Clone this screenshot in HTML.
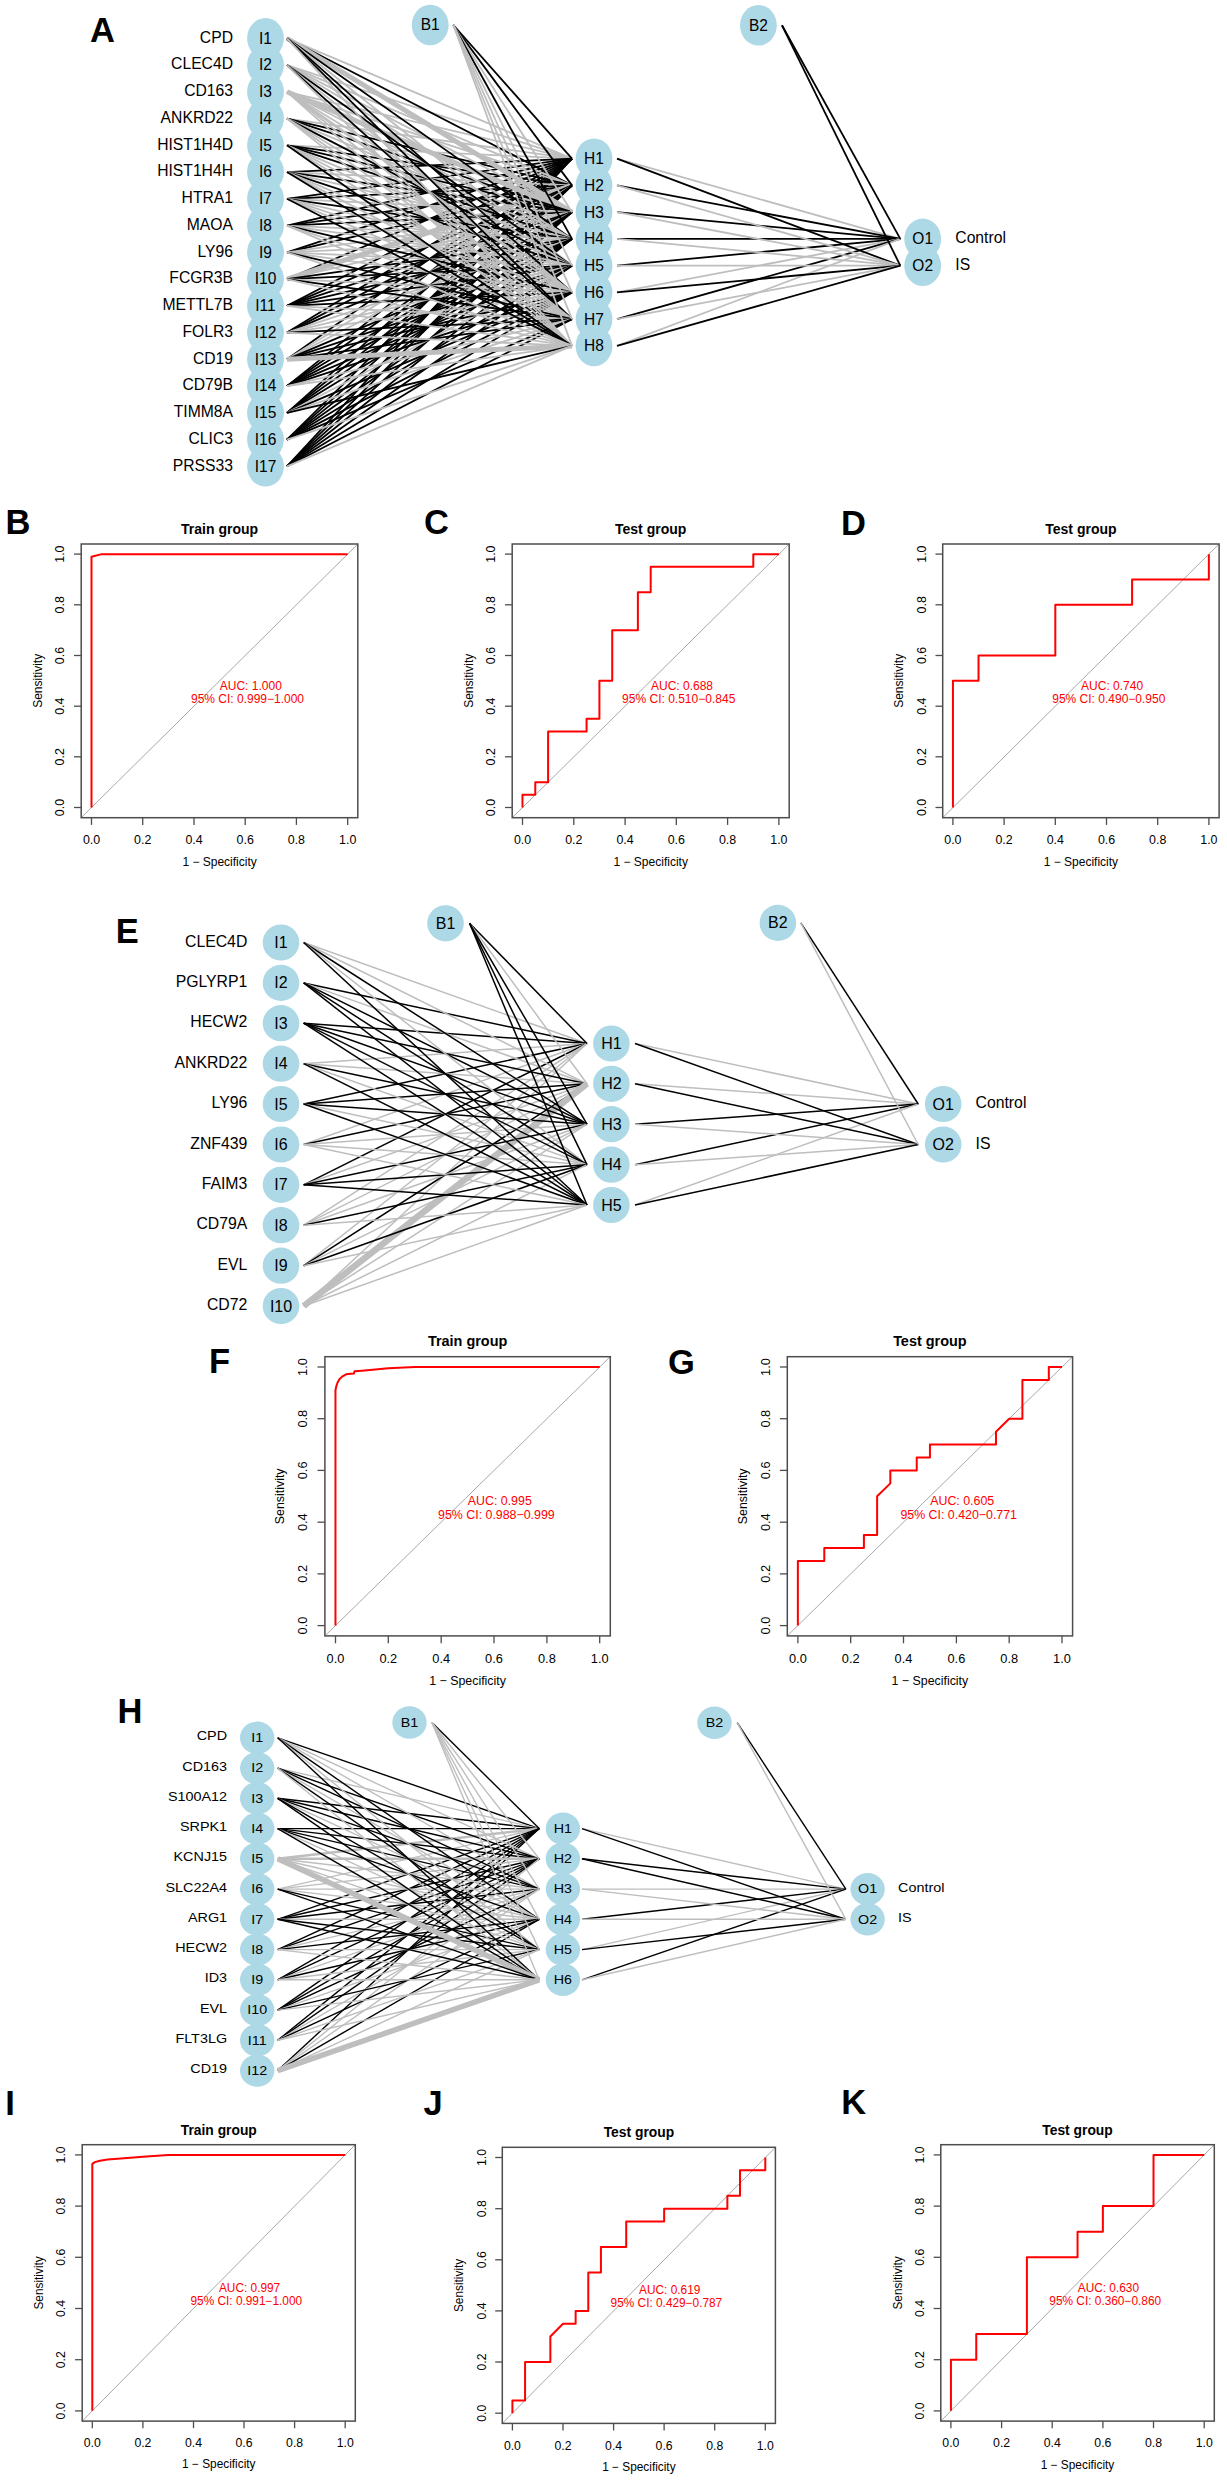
<!DOCTYPE html>
<html><head><meta charset="utf-8"><title>Figure</title>
<style>html,body{margin:0;padding:0;background:#fff;}svg{display:block;font-family:"Liberation Sans", sans-serif;}</style>
</head><body>
<svg width="1227" height="2480" viewBox="0 0 1227 2480" font-family='"Liberation Sans", sans-serif'>
<rect width="1227" height="2480" fill="#fff"/>
<text x="90.00" y="41.50" font-size="34.5" font-weight="bold">A</text>
<line x1="287.0" y1="38.3" x2="572.0" y2="158.7" stroke="#bebebe" stroke-width="1.8"/>
<line x1="287.0" y1="65.1" x2="572.0" y2="158.7" stroke="#bebebe" stroke-width="1.8"/>
<line x1="287.0" y1="91.8" x2="572.0" y2="158.7" stroke="#bebebe" stroke-width="1.8"/>
<line x1="287.0" y1="118.6" x2="572.0" y2="158.7" stroke="#bebebe" stroke-width="1.8"/>
<line x1="287.0" y1="145.3" x2="572.0" y2="158.7" stroke="#bebebe" stroke-width="1.8"/>
<line x1="287.0" y1="172.1" x2="572.0" y2="158.7" stroke="#000" stroke-width="1.8"/>
<line x1="287.0" y1="198.8" x2="572.0" y2="158.7" stroke="#000" stroke-width="1.8"/>
<line x1="287.0" y1="225.6" x2="572.0" y2="158.7" stroke="#000" stroke-width="1.8"/>
<line x1="287.0" y1="252.3" x2="572.0" y2="158.7" stroke="#000" stroke-width="1.8"/>
<line x1="287.0" y1="279.1" x2="572.0" y2="158.7" stroke="#000" stroke-width="1.8"/>
<line x1="287.0" y1="305.8" x2="572.0" y2="158.7" stroke="#000" stroke-width="1.8"/>
<line x1="287.0" y1="332.6" x2="572.0" y2="158.7" stroke="#000" stroke-width="1.8"/>
<line x1="287.0" y1="359.3" x2="572.0" y2="158.7" stroke="#000" stroke-width="1.8"/>
<line x1="287.0" y1="386.1" x2="572.0" y2="158.7" stroke="#000" stroke-width="1.8"/>
<line x1="287.0" y1="412.8" x2="572.0" y2="158.7" stroke="#000" stroke-width="1.8"/>
<line x1="287.0" y1="439.6" x2="572.0" y2="158.7" stroke="#000" stroke-width="1.8"/>
<line x1="287.0" y1="466.3" x2="572.0" y2="158.7" stroke="#000" stroke-width="1.8"/>
<line x1="287.0" y1="38.3" x2="572.0" y2="185.4" stroke="#000" stroke-width="1.8"/>
<line x1="287.0" y1="65.1" x2="572.0" y2="185.4" stroke="#bebebe" stroke-width="1.8"/>
<line x1="287.0" y1="91.8" x2="572.0" y2="185.4" stroke="#bebebe" stroke-width="1.8"/>
<line x1="287.0" y1="118.6" x2="572.0" y2="185.4" stroke="#000" stroke-width="1.8"/>
<line x1="287.0" y1="145.3" x2="572.0" y2="185.4" stroke="#000" stroke-width="1.8"/>
<line x1="287.0" y1="172.1" x2="572.0" y2="185.4" stroke="#bebebe" stroke-width="1.8"/>
<line x1="287.0" y1="198.8" x2="572.0" y2="185.4" stroke="#000" stroke-width="1.8"/>
<line x1="287.0" y1="225.6" x2="572.0" y2="185.4" stroke="#000" stroke-width="1.8"/>
<line x1="287.0" y1="252.3" x2="572.0" y2="185.4" stroke="#000" stroke-width="1.8"/>
<line x1="287.0" y1="279.1" x2="572.0" y2="185.4" stroke="#bebebe" stroke-width="5"/>
<line x1="287.0" y1="305.8" x2="572.0" y2="185.4" stroke="#000" stroke-width="1.8"/>
<line x1="287.0" y1="332.6" x2="572.0" y2="185.4" stroke="#000" stroke-width="1.8"/>
<line x1="287.0" y1="359.3" x2="572.0" y2="185.4" stroke="#bebebe" stroke-width="1.8"/>
<line x1="287.0" y1="386.1" x2="572.0" y2="185.4" stroke="#000" stroke-width="1.8"/>
<line x1="287.0" y1="412.8" x2="572.0" y2="185.4" stroke="#000" stroke-width="1.8"/>
<line x1="287.0" y1="439.6" x2="572.0" y2="185.4" stroke="#000" stroke-width="1.8"/>
<line x1="287.0" y1="466.3" x2="572.0" y2="185.4" stroke="#000" stroke-width="1.8"/>
<line x1="287.0" y1="38.3" x2="572.0" y2="212.2" stroke="#bebebe" stroke-width="5"/>
<line x1="287.0" y1="65.1" x2="572.0" y2="212.2" stroke="#bebebe" stroke-width="1.8"/>
<line x1="287.0" y1="91.8" x2="572.0" y2="212.2" stroke="#bebebe" stroke-width="5"/>
<line x1="287.0" y1="118.6" x2="572.0" y2="212.2" stroke="#000" stroke-width="1.8"/>
<line x1="287.0" y1="145.3" x2="572.0" y2="212.2" stroke="#000" stroke-width="1.8"/>
<line x1="287.0" y1="172.1" x2="572.0" y2="212.2" stroke="#000" stroke-width="1.8"/>
<line x1="287.0" y1="198.8" x2="572.0" y2="212.2" stroke="#bebebe" stroke-width="1.8"/>
<line x1="287.0" y1="225.6" x2="572.0" y2="212.2" stroke="#000" stroke-width="1.8"/>
<line x1="287.0" y1="252.3" x2="572.0" y2="212.2" stroke="#bebebe" stroke-width="1.8"/>
<line x1="287.0" y1="279.1" x2="572.0" y2="212.2" stroke="#bebebe" stroke-width="1.8"/>
<line x1="287.0" y1="305.8" x2="572.0" y2="212.2" stroke="#000" stroke-width="1.8"/>
<line x1="287.0" y1="332.6" x2="572.0" y2="212.2" stroke="#000" stroke-width="1.8"/>
<line x1="287.0" y1="359.3" x2="572.0" y2="212.2" stroke="#bebebe" stroke-width="1.8"/>
<line x1="287.0" y1="386.1" x2="572.0" y2="212.2" stroke="#000" stroke-width="1.8"/>
<line x1="287.0" y1="412.8" x2="572.0" y2="212.2" stroke="#000" stroke-width="1.8"/>
<line x1="287.0" y1="439.6" x2="572.0" y2="212.2" stroke="#000" stroke-width="1.8"/>
<line x1="287.0" y1="466.3" x2="572.0" y2="212.2" stroke="#000" stroke-width="1.8"/>
<line x1="287.0" y1="38.3" x2="572.0" y2="238.9" stroke="#000" stroke-width="1.8"/>
<line x1="287.0" y1="65.1" x2="572.0" y2="238.9" stroke="#bebebe" stroke-width="1.8"/>
<line x1="287.0" y1="91.8" x2="572.0" y2="238.9" stroke="#bebebe" stroke-width="1.8"/>
<line x1="287.0" y1="118.6" x2="572.0" y2="238.9" stroke="#bebebe" stroke-width="1.8"/>
<line x1="287.0" y1="145.3" x2="572.0" y2="238.9" stroke="#000" stroke-width="1.8"/>
<line x1="287.0" y1="172.1" x2="572.0" y2="238.9" stroke="#bebebe" stroke-width="1.8"/>
<line x1="287.0" y1="198.8" x2="572.0" y2="238.9" stroke="#000" stroke-width="1.8"/>
<line x1="287.0" y1="225.6" x2="572.0" y2="238.9" stroke="#bebebe" stroke-width="1.8"/>
<line x1="287.0" y1="252.3" x2="572.0" y2="238.9" stroke="#bebebe" stroke-width="1.8"/>
<line x1="287.0" y1="279.1" x2="572.0" y2="238.9" stroke="#000" stroke-width="1.8"/>
<line x1="287.0" y1="305.8" x2="572.0" y2="238.9" stroke="#000" stroke-width="1.8"/>
<line x1="287.0" y1="332.6" x2="572.0" y2="238.9" stroke="#bebebe" stroke-width="1.8"/>
<line x1="287.0" y1="359.3" x2="572.0" y2="238.9" stroke="#000" stroke-width="1.8"/>
<line x1="287.0" y1="386.1" x2="572.0" y2="238.9" stroke="#000" stroke-width="1.8"/>
<line x1="287.0" y1="412.8" x2="572.0" y2="238.9" stroke="#000" stroke-width="1.8"/>
<line x1="287.0" y1="439.6" x2="572.0" y2="238.9" stroke="#000" stroke-width="1.8"/>
<line x1="287.0" y1="466.3" x2="572.0" y2="238.9" stroke="#000" stroke-width="1.8"/>
<line x1="287.0" y1="38.3" x2="572.0" y2="265.7" stroke="#bebebe" stroke-width="1.8"/>
<line x1="287.0" y1="65.1" x2="572.0" y2="265.7" stroke="#000" stroke-width="1.8"/>
<line x1="287.0" y1="91.8" x2="572.0" y2="265.7" stroke="#bebebe" stroke-width="1.8"/>
<line x1="287.0" y1="118.6" x2="572.0" y2="265.7" stroke="#000" stroke-width="1.8"/>
<line x1="287.0" y1="145.3" x2="572.0" y2="265.7" stroke="#bebebe" stroke-width="1.8"/>
<line x1="287.0" y1="172.1" x2="572.0" y2="265.7" stroke="#000" stroke-width="1.8"/>
<line x1="287.0" y1="198.8" x2="572.0" y2="265.7" stroke="#bebebe" stroke-width="1.8"/>
<line x1="287.0" y1="225.6" x2="572.0" y2="265.7" stroke="#bebebe" stroke-width="1.8"/>
<line x1="287.0" y1="252.3" x2="572.0" y2="265.7" stroke="#bebebe" stroke-width="1.8"/>
<line x1="287.0" y1="279.1" x2="572.0" y2="265.7" stroke="#000" stroke-width="1.8"/>
<line x1="287.0" y1="305.8" x2="572.0" y2="265.7" stroke="#000" stroke-width="1.8"/>
<line x1="287.0" y1="332.6" x2="572.0" y2="265.7" stroke="#bebebe" stroke-width="1.8"/>
<line x1="287.0" y1="359.3" x2="572.0" y2="265.7" stroke="#000" stroke-width="1.8"/>
<line x1="287.0" y1="386.1" x2="572.0" y2="265.7" stroke="#000" stroke-width="1.8"/>
<line x1="287.0" y1="412.8" x2="572.0" y2="265.7" stroke="#bebebe" stroke-width="1.8"/>
<line x1="287.0" y1="439.6" x2="572.0" y2="265.7" stroke="#000" stroke-width="1.8"/>
<line x1="287.0" y1="466.3" x2="572.0" y2="265.7" stroke="#000" stroke-width="1.8"/>
<line x1="287.0" y1="38.3" x2="572.0" y2="292.4" stroke="#000" stroke-width="1.8"/>
<line x1="287.0" y1="65.1" x2="572.0" y2="292.4" stroke="#bebebe" stroke-width="1.8"/>
<line x1="287.0" y1="91.8" x2="572.0" y2="292.4" stroke="#bebebe" stroke-width="2.8"/>
<line x1="287.0" y1="118.6" x2="572.0" y2="292.4" stroke="#bebebe" stroke-width="1.8"/>
<line x1="287.0" y1="145.3" x2="572.0" y2="292.4" stroke="#bebebe" stroke-width="1.8"/>
<line x1="287.0" y1="172.1" x2="572.0" y2="292.4" stroke="#bebebe" stroke-width="1.8"/>
<line x1="287.0" y1="198.8" x2="572.0" y2="292.4" stroke="#bebebe" stroke-width="1.8"/>
<line x1="287.0" y1="225.6" x2="572.0" y2="292.4" stroke="#000" stroke-width="1.8"/>
<line x1="287.0" y1="252.3" x2="572.0" y2="292.4" stroke="#bebebe" stroke-width="1.8"/>
<line x1="287.0" y1="279.1" x2="572.0" y2="292.4" stroke="#bebebe" stroke-width="1.8"/>
<line x1="287.0" y1="305.8" x2="572.0" y2="292.4" stroke="#000" stroke-width="1.8"/>
<line x1="287.0" y1="332.6" x2="572.0" y2="292.4" stroke="#bebebe" stroke-width="1.8"/>
<line x1="287.0" y1="359.3" x2="572.0" y2="292.4" stroke="#000" stroke-width="1.8"/>
<line x1="287.0" y1="386.1" x2="572.0" y2="292.4" stroke="#000" stroke-width="1.8"/>
<line x1="287.0" y1="412.8" x2="572.0" y2="292.4" stroke="#000" stroke-width="1.8"/>
<line x1="287.0" y1="439.6" x2="572.0" y2="292.4" stroke="#000" stroke-width="1.8"/>
<line x1="287.0" y1="466.3" x2="572.0" y2="292.4" stroke="#000" stroke-width="1.8"/>
<line x1="287.0" y1="38.3" x2="572.0" y2="319.2" stroke="#000" stroke-width="1.8"/>
<line x1="287.0" y1="65.1" x2="572.0" y2="319.2" stroke="#000" stroke-width="1.8"/>
<line x1="287.0" y1="91.8" x2="572.0" y2="319.2" stroke="#bebebe" stroke-width="1.8"/>
<line x1="287.0" y1="118.6" x2="572.0" y2="319.2" stroke="#bebebe" stroke-width="1.8"/>
<line x1="287.0" y1="145.3" x2="572.0" y2="319.2" stroke="#bebebe" stroke-width="1.8"/>
<line x1="287.0" y1="172.1" x2="572.0" y2="319.2" stroke="#bebebe" stroke-width="1.8"/>
<line x1="287.0" y1="198.8" x2="572.0" y2="319.2" stroke="#bebebe" stroke-width="1.8"/>
<line x1="287.0" y1="225.6" x2="572.0" y2="319.2" stroke="#bebebe" stroke-width="1.8"/>
<line x1="287.0" y1="252.3" x2="572.0" y2="319.2" stroke="#000" stroke-width="1.8"/>
<line x1="287.0" y1="279.1" x2="572.0" y2="319.2" stroke="#000" stroke-width="1.8"/>
<line x1="287.0" y1="305.8" x2="572.0" y2="319.2" stroke="#bebebe" stroke-width="1.8"/>
<line x1="287.0" y1="332.6" x2="572.0" y2="319.2" stroke="#000" stroke-width="1.8"/>
<line x1="287.0" y1="359.3" x2="572.0" y2="319.2" stroke="#000" stroke-width="1.8"/>
<line x1="287.0" y1="386.1" x2="572.0" y2="319.2" stroke="#bebebe" stroke-width="1.8"/>
<line x1="287.0" y1="412.8" x2="572.0" y2="319.2" stroke="#bebebe" stroke-width="1.8"/>
<line x1="287.0" y1="439.6" x2="572.0" y2="319.2" stroke="#000" stroke-width="1.8"/>
<line x1="287.0" y1="466.3" x2="572.0" y2="319.2" stroke="#000" stroke-width="1.8"/>
<line x1="287.0" y1="38.3" x2="572.0" y2="345.9" stroke="#bebebe" stroke-width="1.8"/>
<line x1="287.0" y1="65.1" x2="572.0" y2="345.9" stroke="#bebebe" stroke-width="1.8"/>
<line x1="287.0" y1="91.8" x2="572.0" y2="345.9" stroke="#bebebe" stroke-width="1.8"/>
<line x1="287.0" y1="118.6" x2="572.0" y2="345.9" stroke="#bebebe" stroke-width="1.8"/>
<line x1="287.0" y1="145.3" x2="572.0" y2="345.9" stroke="#000" stroke-width="1.8"/>
<line x1="287.0" y1="172.1" x2="572.0" y2="345.9" stroke="#000" stroke-width="1.8"/>
<line x1="287.0" y1="198.8" x2="572.0" y2="345.9" stroke="#000" stroke-width="1.8"/>
<line x1="287.0" y1="225.6" x2="572.0" y2="345.9" stroke="#bebebe" stroke-width="1.8"/>
<line x1="287.0" y1="252.3" x2="572.0" y2="345.9" stroke="#bebebe" stroke-width="1.8"/>
<line x1="287.0" y1="279.1" x2="572.0" y2="345.9" stroke="#bebebe" stroke-width="1.8"/>
<line x1="287.0" y1="305.8" x2="572.0" y2="345.9" stroke="#bebebe" stroke-width="1.8"/>
<line x1="287.0" y1="332.6" x2="572.0" y2="345.9" stroke="#bebebe" stroke-width="1.8"/>
<line x1="287.0" y1="359.3" x2="572.0" y2="345.9" stroke="#bebebe" stroke-width="5"/>
<line x1="287.0" y1="386.1" x2="572.0" y2="345.9" stroke="#bebebe" stroke-width="1.8"/>
<line x1="287.0" y1="412.8" x2="572.0" y2="345.9" stroke="#000" stroke-width="1.8"/>
<line x1="287.0" y1="439.6" x2="572.0" y2="345.9" stroke="#bebebe" stroke-width="1.8"/>
<line x1="287.0" y1="466.3" x2="572.0" y2="345.9" stroke="#bebebe" stroke-width="1.8"/>
<line x1="453.3" y1="25.0" x2="572.0" y2="158.7" stroke="#000" stroke-width="1.8"/>
<line x1="453.3" y1="25.0" x2="572.0" y2="185.4" stroke="#000" stroke-width="1.8"/>
<line x1="453.3" y1="25.0" x2="572.0" y2="212.2" stroke="#bebebe" stroke-width="1.8"/>
<line x1="453.3" y1="25.0" x2="572.0" y2="238.9" stroke="#000" stroke-width="1.8"/>
<line x1="453.3" y1="25.0" x2="572.0" y2="265.7" stroke="#bebebe" stroke-width="1.8"/>
<line x1="453.3" y1="25.0" x2="572.0" y2="292.4" stroke="#bebebe" stroke-width="1.8"/>
<line x1="453.3" y1="25.0" x2="572.0" y2="319.2" stroke="#bebebe" stroke-width="1.8"/>
<line x1="453.3" y1="25.0" x2="572.0" y2="345.9" stroke="#bebebe" stroke-width="1.8"/>
<line x1="617.0" y1="158.7" x2="900.3" y2="238.9" stroke="#bebebe" stroke-width="1.8"/>
<line x1="617.0" y1="185.4" x2="900.3" y2="238.9" stroke="#000" stroke-width="1.8"/>
<line x1="617.0" y1="212.2" x2="900.3" y2="238.9" stroke="#000" stroke-width="1.8"/>
<line x1="617.0" y1="238.9" x2="900.3" y2="238.9" stroke="#000" stroke-width="1.8"/>
<line x1="617.0" y1="265.7" x2="900.3" y2="238.9" stroke="#000" stroke-width="1.8"/>
<line x1="617.0" y1="292.4" x2="900.3" y2="238.9" stroke="#bebebe" stroke-width="1.8"/>
<line x1="617.0" y1="319.2" x2="900.3" y2="238.9" stroke="#000" stroke-width="1.8"/>
<line x1="617.0" y1="345.9" x2="900.3" y2="238.9" stroke="#bebebe" stroke-width="1.8"/>
<line x1="782.0" y1="25.3" x2="900.3" y2="238.9" stroke="#000" stroke-width="1.8"/>
<line x1="617.0" y1="158.7" x2="900.3" y2="265.7" stroke="#000" stroke-width="1.8"/>
<line x1="617.0" y1="185.4" x2="900.3" y2="265.7" stroke="#bebebe" stroke-width="1.8"/>
<line x1="617.0" y1="212.2" x2="900.3" y2="265.7" stroke="#bebebe" stroke-width="1.8"/>
<line x1="617.0" y1="238.9" x2="900.3" y2="265.7" stroke="#bebebe" stroke-width="1.8"/>
<line x1="617.0" y1="265.7" x2="900.3" y2="265.7" stroke="#bebebe" stroke-width="1.8"/>
<line x1="617.0" y1="292.4" x2="900.3" y2="265.7" stroke="#000" stroke-width="1.8"/>
<line x1="617.0" y1="319.2" x2="900.3" y2="265.7" stroke="#bebebe" stroke-width="1.8"/>
<line x1="617.0" y1="345.9" x2="900.3" y2="265.7" stroke="#000" stroke-width="1.8"/>
<line x1="782.0" y1="25.3" x2="900.3" y2="265.7" stroke="#000" stroke-width="1.8"/>
<ellipse cx="265.5" cy="38.3" rx="18.4" ry="20.3" fill="#add8e6"/>
<text transform="translate(265.5,43.7) scale(1,1.08)" font-size="15.5" text-anchor="middle">I1</text>
<ellipse cx="265.5" cy="65.1" rx="18.4" ry="20.3" fill="#add8e6"/>
<text transform="translate(265.5,70.4) scale(1,1.08)" font-size="15.5" text-anchor="middle">I2</text>
<ellipse cx="265.5" cy="91.8" rx="18.4" ry="20.3" fill="#add8e6"/>
<text transform="translate(265.5,97.2) scale(1,1.08)" font-size="15.5" text-anchor="middle">I3</text>
<ellipse cx="265.5" cy="118.6" rx="18.4" ry="20.3" fill="#add8e6"/>
<text transform="translate(265.5,123.9) scale(1,1.08)" font-size="15.5" text-anchor="middle">I4</text>
<ellipse cx="265.5" cy="145.3" rx="18.4" ry="20.3" fill="#add8e6"/>
<text transform="translate(265.5,150.7) scale(1,1.08)" font-size="15.5" text-anchor="middle">I5</text>
<ellipse cx="265.5" cy="172.1" rx="18.4" ry="20.3" fill="#add8e6"/>
<text transform="translate(265.5,177.4) scale(1,1.08)" font-size="15.5" text-anchor="middle">I6</text>
<ellipse cx="265.5" cy="198.8" rx="18.4" ry="20.3" fill="#add8e6"/>
<text transform="translate(265.5,204.2) scale(1,1.08)" font-size="15.5" text-anchor="middle">I7</text>
<ellipse cx="265.5" cy="225.6" rx="18.4" ry="20.3" fill="#add8e6"/>
<text transform="translate(265.5,230.9) scale(1,1.08)" font-size="15.5" text-anchor="middle">I8</text>
<ellipse cx="265.5" cy="252.3" rx="18.4" ry="20.3" fill="#add8e6"/>
<text transform="translate(265.5,257.7) scale(1,1.08)" font-size="15.5" text-anchor="middle">I9</text>
<ellipse cx="265.5" cy="279.1" rx="18.4" ry="20.3" fill="#add8e6"/>
<text transform="translate(265.5,284.4) scale(1,1.08)" font-size="15.5" text-anchor="middle">I10</text>
<ellipse cx="265.5" cy="305.8" rx="18.4" ry="20.3" fill="#add8e6"/>
<text transform="translate(265.5,311.2) scale(1,1.08)" font-size="15.5" text-anchor="middle">I11</text>
<ellipse cx="265.5" cy="332.6" rx="18.4" ry="20.3" fill="#add8e6"/>
<text transform="translate(265.5,337.9) scale(1,1.08)" font-size="15.5" text-anchor="middle">I12</text>
<ellipse cx="265.5" cy="359.3" rx="18.4" ry="20.3" fill="#add8e6"/>
<text transform="translate(265.5,364.7) scale(1,1.08)" font-size="15.5" text-anchor="middle">I13</text>
<ellipse cx="265.5" cy="386.1" rx="18.4" ry="20.3" fill="#add8e6"/>
<text transform="translate(265.5,391.4) scale(1,1.08)" font-size="15.5" text-anchor="middle">I14</text>
<ellipse cx="265.5" cy="412.8" rx="18.4" ry="20.3" fill="#add8e6"/>
<text transform="translate(265.5,418.2) scale(1,1.08)" font-size="15.5" text-anchor="middle">I15</text>
<ellipse cx="265.5" cy="439.6" rx="18.4" ry="20.3" fill="#add8e6"/>
<text transform="translate(265.5,444.9) scale(1,1.08)" font-size="15.5" text-anchor="middle">I16</text>
<ellipse cx="265.5" cy="466.3" rx="18.4" ry="20.3" fill="#add8e6"/>
<text transform="translate(265.5,471.7) scale(1,1.08)" font-size="15.5" text-anchor="middle">I17</text>
<ellipse cx="594.0" cy="158.7" rx="18.4" ry="20.3" fill="#add8e6"/>
<text transform="translate(594.0,164.0) scale(1,1.08)" font-size="15.5" text-anchor="middle">H1</text>
<ellipse cx="594.0" cy="185.4" rx="18.4" ry="20.3" fill="#add8e6"/>
<text transform="translate(594.0,190.8) scale(1,1.08)" font-size="15.5" text-anchor="middle">H2</text>
<ellipse cx="594.0" cy="212.2" rx="18.4" ry="20.3" fill="#add8e6"/>
<text transform="translate(594.0,217.5) scale(1,1.08)" font-size="15.5" text-anchor="middle">H3</text>
<ellipse cx="594.0" cy="238.9" rx="18.4" ry="20.3" fill="#add8e6"/>
<text transform="translate(594.0,244.3) scale(1,1.08)" font-size="15.5" text-anchor="middle">H4</text>
<ellipse cx="594.0" cy="265.7" rx="18.4" ry="20.3" fill="#add8e6"/>
<text transform="translate(594.0,271.0) scale(1,1.08)" font-size="15.5" text-anchor="middle">H5</text>
<ellipse cx="594.0" cy="292.4" rx="18.4" ry="20.3" fill="#add8e6"/>
<text transform="translate(594.0,297.8) scale(1,1.08)" font-size="15.5" text-anchor="middle">H6</text>
<ellipse cx="594.0" cy="319.2" rx="18.4" ry="20.3" fill="#add8e6"/>
<text transform="translate(594.0,324.5) scale(1,1.08)" font-size="15.5" text-anchor="middle">H7</text>
<ellipse cx="594.0" cy="345.9" rx="18.4" ry="20.3" fill="#add8e6"/>
<text transform="translate(594.0,351.3) scale(1,1.08)" font-size="15.5" text-anchor="middle">H8</text>
<ellipse cx="922.7" cy="238.9" rx="18.4" ry="20.3" fill="#add8e6"/>
<text transform="translate(922.7,244.3) scale(1,1.08)" font-size="15.5" text-anchor="middle">O1</text>
<ellipse cx="922.7" cy="265.7" rx="18.4" ry="20.3" fill="#add8e6"/>
<text transform="translate(922.7,271.0) scale(1,1.08)" font-size="15.5" text-anchor="middle">O2</text>
<ellipse cx="430.2" cy="25.0" rx="18.4" ry="20.3" fill="#add8e6"/>
<text transform="translate(430.2,30.4) scale(1,1.08)" font-size="15.5" text-anchor="middle">B1</text>
<ellipse cx="758.4" cy="25.3" rx="18.4" ry="20.3" fill="#add8e6"/>
<text transform="translate(758.4,30.7) scale(1,1.08)" font-size="15.5" text-anchor="middle">B2</text>
<text transform="translate(233.0,42.5) scale(1,1.08)" font-size="15.7" text-anchor="end">CPD</text>
<text transform="translate(233.0,69.3) scale(1,1.08)" font-size="15.7" text-anchor="end">CLEC4D</text>
<text transform="translate(233.0,96.0) scale(1,1.08)" font-size="15.7" text-anchor="end">CD163</text>
<text transform="translate(233.0,122.8) scale(1,1.08)" font-size="15.7" text-anchor="end">ANKRD22</text>
<text transform="translate(233.0,149.5) scale(1,1.08)" font-size="15.7" text-anchor="end">HIST1H4D</text>
<text transform="translate(233.0,176.3) scale(1,1.08)" font-size="15.7" text-anchor="end">HIST1H4H</text>
<text transform="translate(233.0,203.0) scale(1,1.08)" font-size="15.7" text-anchor="end">HTRA1</text>
<text transform="translate(233.0,229.8) scale(1,1.08)" font-size="15.7" text-anchor="end">MAOA</text>
<text transform="translate(233.0,256.5) scale(1,1.08)" font-size="15.7" text-anchor="end">LY96</text>
<text transform="translate(233.0,283.3) scale(1,1.08)" font-size="15.7" text-anchor="end">FCGR3B</text>
<text transform="translate(233.0,310.0) scale(1,1.08)" font-size="15.7" text-anchor="end">METTL7B</text>
<text transform="translate(233.0,336.8) scale(1,1.08)" font-size="15.7" text-anchor="end">FOLR3</text>
<text transform="translate(233.0,363.5) scale(1,1.08)" font-size="15.7" text-anchor="end">CD19</text>
<text transform="translate(233.0,390.3) scale(1,1.08)" font-size="15.7" text-anchor="end">CD79B</text>
<text transform="translate(233.0,417.0) scale(1,1.08)" font-size="15.7" text-anchor="end">TIMM8A</text>
<text transform="translate(233.0,443.8) scale(1,1.08)" font-size="15.7" text-anchor="end">CLIC3</text>
<text transform="translate(233.0,470.5) scale(1,1.08)" font-size="15.7" text-anchor="end">PRSS33</text>
<text transform="translate(955.3,243.2) scale(1,1.08)" font-size="15.7">Control</text>
<text transform="translate(955.3,269.9) scale(1,1.08)" font-size="15.7">IS</text>
<text x="115.70" y="943.40" font-size="34.5" font-weight="bold">E</text>
<line x1="303.7" y1="942.5" x2="587.0" y2="1043.5" stroke="#bebebe" stroke-width="1.5"/>
<line x1="303.7" y1="982.9" x2="587.0" y2="1043.5" stroke="#000" stroke-width="1.5"/>
<line x1="303.7" y1="1023.2" x2="587.0" y2="1043.5" stroke="#000" stroke-width="1.5"/>
<line x1="303.7" y1="1063.7" x2="587.0" y2="1043.5" stroke="#bebebe" stroke-width="1.5"/>
<line x1="303.7" y1="1104.0" x2="587.0" y2="1043.5" stroke="#000" stroke-width="1.5"/>
<line x1="303.7" y1="1144.5" x2="587.0" y2="1043.5" stroke="#bebebe" stroke-width="1.5"/>
<line x1="303.7" y1="1184.8" x2="587.0" y2="1043.5" stroke="#000" stroke-width="1.5"/>
<line x1="303.7" y1="1225.2" x2="587.0" y2="1043.5" stroke="#bebebe" stroke-width="1.5"/>
<line x1="303.7" y1="1265.7" x2="587.0" y2="1043.5" stroke="#bebebe" stroke-width="1.5"/>
<line x1="303.7" y1="1306.0" x2="587.0" y2="1043.5" stroke="#bebebe" stroke-width="1.5"/>
<line x1="303.7" y1="942.5" x2="587.0" y2="1083.8" stroke="#bebebe" stroke-width="1.5"/>
<line x1="303.7" y1="982.9" x2="587.0" y2="1083.8" stroke="#bebebe" stroke-width="1.5"/>
<line x1="303.7" y1="1023.2" x2="587.0" y2="1083.8" stroke="#000" stroke-width="1.5"/>
<line x1="303.7" y1="1063.7" x2="587.0" y2="1083.8" stroke="#bebebe" stroke-width="1.5"/>
<line x1="303.7" y1="1104.0" x2="587.0" y2="1083.8" stroke="#000" stroke-width="1.5"/>
<line x1="303.7" y1="1144.5" x2="587.0" y2="1083.8" stroke="#000" stroke-width="1.5"/>
<line x1="303.7" y1="1184.8" x2="587.0" y2="1083.8" stroke="#bebebe" stroke-width="1.5"/>
<line x1="303.7" y1="1225.2" x2="587.0" y2="1083.8" stroke="#bebebe" stroke-width="1.5"/>
<line x1="303.7" y1="1265.7" x2="587.0" y2="1083.8" stroke="#000" stroke-width="1.5"/>
<line x1="303.7" y1="1306.0" x2="587.0" y2="1083.8" stroke="#bebebe" stroke-width="6.5"/>
<line x1="303.7" y1="942.5" x2="587.0" y2="1124.2" stroke="#000" stroke-width="1.5"/>
<line x1="303.7" y1="982.9" x2="587.0" y2="1124.2" stroke="#000" stroke-width="1.5"/>
<line x1="303.7" y1="1023.2" x2="587.0" y2="1124.2" stroke="#000" stroke-width="1.5"/>
<line x1="303.7" y1="1063.7" x2="587.0" y2="1124.2" stroke="#000" stroke-width="1.5"/>
<line x1="303.7" y1="1104.0" x2="587.0" y2="1124.2" stroke="#000" stroke-width="1.5"/>
<line x1="303.7" y1="1144.5" x2="587.0" y2="1124.2" stroke="#bebebe" stroke-width="1.5"/>
<line x1="303.7" y1="1184.8" x2="587.0" y2="1124.2" stroke="#000" stroke-width="1.5"/>
<line x1="303.7" y1="1225.2" x2="587.0" y2="1124.2" stroke="#bebebe" stroke-width="1.5"/>
<line x1="303.7" y1="1265.7" x2="587.0" y2="1124.2" stroke="#bebebe" stroke-width="1.5"/>
<line x1="303.7" y1="1306.0" x2="587.0" y2="1124.2" stroke="#bebebe" stroke-width="1.5"/>
<line x1="303.7" y1="942.5" x2="587.0" y2="1164.7" stroke="#bebebe" stroke-width="1.5"/>
<line x1="303.7" y1="982.9" x2="587.0" y2="1164.7" stroke="#000" stroke-width="1.5"/>
<line x1="303.7" y1="1023.2" x2="587.0" y2="1164.7" stroke="#000" stroke-width="1.5"/>
<line x1="303.7" y1="1063.7" x2="587.0" y2="1164.7" stroke="#bebebe" stroke-width="1.5"/>
<line x1="303.7" y1="1104.0" x2="587.0" y2="1164.7" stroke="#bebebe" stroke-width="1.5"/>
<line x1="303.7" y1="1144.5" x2="587.0" y2="1164.7" stroke="#bebebe" stroke-width="1.5"/>
<line x1="303.7" y1="1184.8" x2="587.0" y2="1164.7" stroke="#000" stroke-width="1.5"/>
<line x1="303.7" y1="1225.2" x2="587.0" y2="1164.7" stroke="#000" stroke-width="1.5"/>
<line x1="303.7" y1="1265.7" x2="587.0" y2="1164.7" stroke="#000" stroke-width="1.5"/>
<line x1="303.7" y1="1306.0" x2="587.0" y2="1164.7" stroke="#bebebe" stroke-width="1.5"/>
<line x1="303.7" y1="942.5" x2="587.0" y2="1205.0" stroke="#000" stroke-width="1.5"/>
<line x1="303.7" y1="982.9" x2="587.0" y2="1205.0" stroke="#000" stroke-width="1.5"/>
<line x1="303.7" y1="1023.2" x2="587.0" y2="1205.0" stroke="#000" stroke-width="1.5"/>
<line x1="303.7" y1="1063.7" x2="587.0" y2="1205.0" stroke="#000" stroke-width="1.5"/>
<line x1="303.7" y1="1104.0" x2="587.0" y2="1205.0" stroke="#000" stroke-width="1.5"/>
<line x1="303.7" y1="1144.5" x2="587.0" y2="1205.0" stroke="#bebebe" stroke-width="1.5"/>
<line x1="303.7" y1="1184.8" x2="587.0" y2="1205.0" stroke="#000" stroke-width="1.5"/>
<line x1="303.7" y1="1225.2" x2="587.0" y2="1205.0" stroke="#bebebe" stroke-width="1.5"/>
<line x1="303.7" y1="1265.7" x2="587.0" y2="1205.0" stroke="#bebebe" stroke-width="1.5"/>
<line x1="303.7" y1="1306.0" x2="587.0" y2="1205.0" stroke="#bebebe" stroke-width="1.5"/>
<line x1="469.6" y1="923.3" x2="587.0" y2="1043.5" stroke="#000" stroke-width="1.5"/>
<line x1="469.6" y1="923.3" x2="587.0" y2="1083.8" stroke="#bebebe" stroke-width="1.5"/>
<line x1="469.6" y1="923.3" x2="587.0" y2="1124.2" stroke="#000" stroke-width="1.5"/>
<line x1="469.6" y1="923.3" x2="587.0" y2="1164.7" stroke="#000" stroke-width="1.5"/>
<line x1="469.6" y1="923.3" x2="587.0" y2="1205.0" stroke="#000" stroke-width="1.5"/>
<line x1="635.0" y1="1043.5" x2="918.2" y2="1104.0" stroke="#bebebe" stroke-width="1.5"/>
<line x1="635.0" y1="1083.8" x2="918.2" y2="1104.0" stroke="#bebebe" stroke-width="1.5"/>
<line x1="635.0" y1="1124.2" x2="918.2" y2="1104.0" stroke="#000" stroke-width="1.5"/>
<line x1="635.0" y1="1164.7" x2="918.2" y2="1104.0" stroke="#000" stroke-width="1.5"/>
<line x1="635.0" y1="1205.0" x2="918.2" y2="1104.0" stroke="#bebebe" stroke-width="1.5"/>
<line x1="800.8" y1="922.9" x2="918.2" y2="1104.0" stroke="#000" stroke-width="1.5"/>
<line x1="635.0" y1="1043.5" x2="918.2" y2="1144.5" stroke="#000" stroke-width="1.5"/>
<line x1="635.0" y1="1083.8" x2="918.2" y2="1144.5" stroke="#000" stroke-width="1.5"/>
<line x1="635.0" y1="1124.2" x2="918.2" y2="1144.5" stroke="#bebebe" stroke-width="1.5"/>
<line x1="635.0" y1="1164.7" x2="918.2" y2="1144.5" stroke="#bebebe" stroke-width="1.5"/>
<line x1="635.0" y1="1205.0" x2="918.2" y2="1144.5" stroke="#000" stroke-width="1.5"/>
<line x1="800.8" y1="922.9" x2="918.2" y2="1144.5" stroke="#bebebe" stroke-width="1.5"/>
<ellipse cx="281.0" cy="942.5" rx="18.3" ry="18.1" fill="#add8e6"/>
<text transform="translate(281.0,947.9) scale(1,1.06)" font-size="16" text-anchor="middle">I1</text>
<ellipse cx="281.0" cy="982.9" rx="18.3" ry="18.1" fill="#add8e6"/>
<text transform="translate(281.0,988.3) scale(1,1.06)" font-size="16" text-anchor="middle">I2</text>
<ellipse cx="281.0" cy="1023.2" rx="18.3" ry="18.1" fill="#add8e6"/>
<text transform="translate(281.0,1028.7) scale(1,1.06)" font-size="16" text-anchor="middle">I3</text>
<ellipse cx="281.0" cy="1063.7" rx="18.3" ry="18.1" fill="#add8e6"/>
<text transform="translate(281.0,1069.1) scale(1,1.06)" font-size="16" text-anchor="middle">I4</text>
<ellipse cx="281.0" cy="1104.0" rx="18.3" ry="18.1" fill="#add8e6"/>
<text transform="translate(281.0,1109.5) scale(1,1.06)" font-size="16" text-anchor="middle">I5</text>
<ellipse cx="281.0" cy="1144.5" rx="18.3" ry="18.1" fill="#add8e6"/>
<text transform="translate(281.0,1149.9) scale(1,1.06)" font-size="16" text-anchor="middle">I6</text>
<ellipse cx="281.0" cy="1184.8" rx="18.3" ry="18.1" fill="#add8e6"/>
<text transform="translate(281.0,1190.3) scale(1,1.06)" font-size="16" text-anchor="middle">I7</text>
<ellipse cx="281.0" cy="1225.2" rx="18.3" ry="18.1" fill="#add8e6"/>
<text transform="translate(281.0,1230.7) scale(1,1.06)" font-size="16" text-anchor="middle">I8</text>
<ellipse cx="281.0" cy="1265.7" rx="18.3" ry="18.1" fill="#add8e6"/>
<text transform="translate(281.0,1271.1) scale(1,1.06)" font-size="16" text-anchor="middle">I9</text>
<ellipse cx="281.0" cy="1306.0" rx="18.3" ry="18.1" fill="#add8e6"/>
<text transform="translate(281.0,1311.5) scale(1,1.06)" font-size="16" text-anchor="middle">I10</text>
<ellipse cx="611.4" cy="1043.5" rx="18.3" ry="18.1" fill="#add8e6"/>
<text transform="translate(611.4,1048.9) scale(1,1.06)" font-size="16" text-anchor="middle">H1</text>
<ellipse cx="611.4" cy="1083.8" rx="18.3" ry="18.1" fill="#add8e6"/>
<text transform="translate(611.4,1089.3) scale(1,1.06)" font-size="16" text-anchor="middle">H2</text>
<ellipse cx="611.4" cy="1124.2" rx="18.3" ry="18.1" fill="#add8e6"/>
<text transform="translate(611.4,1129.7) scale(1,1.06)" font-size="16" text-anchor="middle">H3</text>
<ellipse cx="611.4" cy="1164.7" rx="18.3" ry="18.1" fill="#add8e6"/>
<text transform="translate(611.4,1170.1) scale(1,1.06)" font-size="16" text-anchor="middle">H4</text>
<ellipse cx="611.4" cy="1205.0" rx="18.3" ry="18.1" fill="#add8e6"/>
<text transform="translate(611.4,1210.5) scale(1,1.06)" font-size="16" text-anchor="middle">H5</text>
<ellipse cx="943.2" cy="1104.0" rx="18.3" ry="18.1" fill="#add8e6"/>
<text transform="translate(943.2,1109.5) scale(1,1.06)" font-size="16" text-anchor="middle">O1</text>
<ellipse cx="943.2" cy="1144.5" rx="18.3" ry="18.1" fill="#add8e6"/>
<text transform="translate(943.2,1149.9) scale(1,1.06)" font-size="16" text-anchor="middle">O2</text>
<ellipse cx="445.5" cy="923.3" rx="18.3" ry="18.1" fill="#add8e6"/>
<text transform="translate(445.5,928.7) scale(1,1.06)" font-size="16" text-anchor="middle">B1</text>
<ellipse cx="777.9" cy="922.9" rx="18.3" ry="18.1" fill="#add8e6"/>
<text transform="translate(777.9,928.3) scale(1,1.06)" font-size="16" text-anchor="middle">B2</text>
<text transform="translate(247.3,946.6) scale(1,1.06)" font-size="15.8" text-anchor="end">CLEC4D</text>
<text transform="translate(247.3,987.0) scale(1,1.06)" font-size="15.8" text-anchor="end">PGLYRP1</text>
<text transform="translate(247.3,1027.4) scale(1,1.06)" font-size="15.8" text-anchor="end">HECW2</text>
<text transform="translate(247.3,1067.8) scale(1,1.06)" font-size="15.8" text-anchor="end">ANKRD22</text>
<text transform="translate(247.3,1108.2) scale(1,1.06)" font-size="15.8" text-anchor="end">LY96</text>
<text transform="translate(247.3,1148.6) scale(1,1.06)" font-size="15.8" text-anchor="end">ZNF439</text>
<text transform="translate(247.3,1189.0) scale(1,1.06)" font-size="15.8" text-anchor="end">FAIM3</text>
<text transform="translate(247.3,1229.4) scale(1,1.06)" font-size="15.8" text-anchor="end">CD79A</text>
<text transform="translate(247.3,1269.8) scale(1,1.06)" font-size="15.8" text-anchor="end">EVL</text>
<text transform="translate(247.3,1310.2) scale(1,1.06)" font-size="15.8" text-anchor="end">CD72</text>
<text transform="translate(975.5,1108.2) scale(1,1.06)" font-size="15.8">Control</text>
<text transform="translate(975.5,1148.6) scale(1,1.06)" font-size="15.8">IS</text>
<text x="117.60" y="1723.40" font-size="34.5" font-weight="bold">H</text>
<line x1="277.7" y1="1737.8" x2="539.2" y2="1828.6" stroke="#000" stroke-width="1.4"/>
<line x1="277.7" y1="1768.1" x2="539.2" y2="1828.6" stroke="#bebebe" stroke-width="1.4"/>
<line x1="277.7" y1="1798.3" x2="539.2" y2="1828.6" stroke="#000" stroke-width="1.4"/>
<line x1="277.7" y1="1828.6" x2="539.2" y2="1828.6" stroke="#000" stroke-width="1.4"/>
<line x1="277.7" y1="1858.8" x2="539.2" y2="1828.6" stroke="#bebebe" stroke-width="2.6"/>
<line x1="277.7" y1="1889.1" x2="539.2" y2="1828.6" stroke="#bebebe" stroke-width="1.4"/>
<line x1="277.7" y1="1919.3" x2="539.2" y2="1828.6" stroke="#000" stroke-width="1.4"/>
<line x1="277.7" y1="1949.6" x2="539.2" y2="1828.6" stroke="#000" stroke-width="1.4"/>
<line x1="277.7" y1="1979.8" x2="539.2" y2="1828.6" stroke="#000" stroke-width="1.4"/>
<line x1="277.7" y1="2010.1" x2="539.2" y2="1828.6" stroke="#000" stroke-width="1.4"/>
<line x1="277.7" y1="2040.3" x2="539.2" y2="1828.6" stroke="#000" stroke-width="1.4"/>
<line x1="277.7" y1="2070.6" x2="539.2" y2="1828.6" stroke="#000" stroke-width="1.4"/>
<line x1="277.7" y1="1737.8" x2="539.2" y2="1858.8" stroke="#bebebe" stroke-width="1.4"/>
<line x1="277.7" y1="1768.1" x2="539.2" y2="1858.8" stroke="#000" stroke-width="1.4"/>
<line x1="277.7" y1="1798.3" x2="539.2" y2="1858.8" stroke="#000" stroke-width="1.4"/>
<line x1="277.7" y1="1828.6" x2="539.2" y2="1858.8" stroke="#000" stroke-width="1.4"/>
<line x1="277.7" y1="1858.8" x2="539.2" y2="1858.8" stroke="#bebebe" stroke-width="2.6"/>
<line x1="277.7" y1="1889.1" x2="539.2" y2="1858.8" stroke="#bebebe" stroke-width="1.4"/>
<line x1="277.7" y1="1919.3" x2="539.2" y2="1858.8" stroke="#000" stroke-width="1.4"/>
<line x1="277.7" y1="1949.6" x2="539.2" y2="1858.8" stroke="#000" stroke-width="1.4"/>
<line x1="277.7" y1="1979.8" x2="539.2" y2="1858.8" stroke="#000" stroke-width="1.4"/>
<line x1="277.7" y1="2010.1" x2="539.2" y2="1858.8" stroke="#000" stroke-width="1.4"/>
<line x1="277.7" y1="2040.3" x2="539.2" y2="1858.8" stroke="#000" stroke-width="1.4"/>
<line x1="277.7" y1="2070.6" x2="539.2" y2="1858.8" stroke="#bebebe" stroke-width="1.4"/>
<line x1="277.7" y1="1737.8" x2="539.2" y2="1889.1" stroke="#bebebe" stroke-width="1.4"/>
<line x1="277.7" y1="1768.1" x2="539.2" y2="1889.1" stroke="#000" stroke-width="1.4"/>
<line x1="277.7" y1="1798.3" x2="539.2" y2="1889.1" stroke="#000" stroke-width="1.4"/>
<line x1="277.7" y1="1828.6" x2="539.2" y2="1889.1" stroke="#000" stroke-width="1.4"/>
<line x1="277.7" y1="1858.8" x2="539.2" y2="1889.1" stroke="#bebebe" stroke-width="1.4"/>
<line x1="277.7" y1="1889.1" x2="539.2" y2="1889.1" stroke="#bebebe" stroke-width="1.4"/>
<line x1="277.7" y1="1919.3" x2="539.2" y2="1889.1" stroke="#000" stroke-width="1.4"/>
<line x1="277.7" y1="1949.6" x2="539.2" y2="1889.1" stroke="#bebebe" stroke-width="1.4"/>
<line x1="277.7" y1="1979.8" x2="539.2" y2="1889.1" stroke="#bebebe" stroke-width="1.4"/>
<line x1="277.7" y1="2010.1" x2="539.2" y2="1889.1" stroke="#000" stroke-width="1.4"/>
<line x1="277.7" y1="2040.3" x2="539.2" y2="1889.1" stroke="#bebebe" stroke-width="1.4"/>
<line x1="277.7" y1="2070.6" x2="539.2" y2="1889.1" stroke="#bebebe" stroke-width="1.4"/>
<line x1="277.7" y1="1737.8" x2="539.2" y2="1919.3" stroke="#000" stroke-width="1.4"/>
<line x1="277.7" y1="1768.1" x2="539.2" y2="1919.3" stroke="#bebebe" stroke-width="1.4"/>
<line x1="277.7" y1="1798.3" x2="539.2" y2="1919.3" stroke="#bebebe" stroke-width="1.4"/>
<line x1="277.7" y1="1828.6" x2="539.2" y2="1919.3" stroke="#000" stroke-width="1.4"/>
<line x1="277.7" y1="1858.8" x2="539.2" y2="1919.3" stroke="#bebebe" stroke-width="1.4"/>
<line x1="277.7" y1="1889.1" x2="539.2" y2="1919.3" stroke="#bebebe" stroke-width="1.4"/>
<line x1="277.7" y1="1919.3" x2="539.2" y2="1919.3" stroke="#bebebe" stroke-width="1.4"/>
<line x1="277.7" y1="1949.6" x2="539.2" y2="1919.3" stroke="#000" stroke-width="1.4"/>
<line x1="277.7" y1="1979.8" x2="539.2" y2="1919.3" stroke="#000" stroke-width="1.4"/>
<line x1="277.7" y1="2010.1" x2="539.2" y2="1919.3" stroke="#bebebe" stroke-width="1.4"/>
<line x1="277.7" y1="2040.3" x2="539.2" y2="1919.3" stroke="#000" stroke-width="1.4"/>
<line x1="277.7" y1="2070.6" x2="539.2" y2="1919.3" stroke="#000" stroke-width="1.4"/>
<line x1="277.7" y1="1737.8" x2="539.2" y2="1949.6" stroke="#bebebe" stroke-width="1.4"/>
<line x1="277.7" y1="1768.1" x2="539.2" y2="1949.6" stroke="#000" stroke-width="1.4"/>
<line x1="277.7" y1="1798.3" x2="539.2" y2="1949.6" stroke="#000" stroke-width="1.4"/>
<line x1="277.7" y1="1828.6" x2="539.2" y2="1949.6" stroke="#bebebe" stroke-width="1.4"/>
<line x1="277.7" y1="1858.8" x2="539.2" y2="1949.6" stroke="#bebebe" stroke-width="1.4"/>
<line x1="277.7" y1="1889.1" x2="539.2" y2="1949.6" stroke="#000" stroke-width="1.4"/>
<line x1="277.7" y1="1919.3" x2="539.2" y2="1949.6" stroke="#000" stroke-width="1.4"/>
<line x1="277.7" y1="1949.6" x2="539.2" y2="1949.6" stroke="#bebebe" stroke-width="1.4"/>
<line x1="277.7" y1="1979.8" x2="539.2" y2="1949.6" stroke="#bebebe" stroke-width="1.4"/>
<line x1="277.7" y1="2010.1" x2="539.2" y2="1949.6" stroke="#000" stroke-width="1.4"/>
<line x1="277.7" y1="2040.3" x2="539.2" y2="1949.6" stroke="#bebebe" stroke-width="1.4"/>
<line x1="277.7" y1="2070.6" x2="539.2" y2="1949.6" stroke="#bebebe" stroke-width="1.4"/>
<line x1="277.7" y1="1737.8" x2="539.2" y2="1979.8" stroke="#000" stroke-width="1.4"/>
<line x1="277.7" y1="1768.1" x2="539.2" y2="1979.8" stroke="#bebebe" stroke-width="1.4"/>
<line x1="277.7" y1="1798.3" x2="539.2" y2="1979.8" stroke="#000" stroke-width="1.4"/>
<line x1="277.7" y1="1828.6" x2="539.2" y2="1979.8" stroke="#000" stroke-width="1.4"/>
<line x1="277.7" y1="1858.8" x2="539.2" y2="1979.8" stroke="#bebebe" stroke-width="5.5"/>
<line x1="277.7" y1="1889.1" x2="539.2" y2="1979.8" stroke="#000" stroke-width="1.4"/>
<line x1="277.7" y1="1919.3" x2="539.2" y2="1979.8" stroke="#000" stroke-width="1.4"/>
<line x1="277.7" y1="1949.6" x2="539.2" y2="1979.8" stroke="#bebebe" stroke-width="1.4"/>
<line x1="277.7" y1="1979.8" x2="539.2" y2="1979.8" stroke="#bebebe" stroke-width="1.4"/>
<line x1="277.7" y1="2010.1" x2="539.2" y2="1979.8" stroke="#bebebe" stroke-width="1.4"/>
<line x1="277.7" y1="2040.3" x2="539.2" y2="1979.8" stroke="#bebebe" stroke-width="1.4"/>
<line x1="277.7" y1="2070.6" x2="539.2" y2="1979.8" stroke="#bebebe" stroke-width="5.5"/>
<line x1="431.9" y1="1722.5" x2="539.2" y2="1828.6" stroke="#000" stroke-width="1.4"/>
<line x1="431.9" y1="1722.5" x2="539.2" y2="1858.8" stroke="#bebebe" stroke-width="1.4"/>
<line x1="431.9" y1="1722.5" x2="539.2" y2="1889.1" stroke="#bebebe" stroke-width="1.4"/>
<line x1="431.9" y1="1722.5" x2="539.2" y2="1919.3" stroke="#bebebe" stroke-width="1.4"/>
<line x1="431.9" y1="1722.5" x2="539.2" y2="1949.6" stroke="#bebebe" stroke-width="1.4"/>
<line x1="431.9" y1="1722.5" x2="539.2" y2="1979.8" stroke="#bebebe" stroke-width="1.4"/>
<line x1="582.0" y1="1828.6" x2="845.9" y2="1889.1" stroke="#bebebe" stroke-width="1.4"/>
<line x1="582.0" y1="1858.8" x2="845.9" y2="1889.1" stroke="#000" stroke-width="1.4"/>
<line x1="582.0" y1="1889.1" x2="845.9" y2="1889.1" stroke="#bebebe" stroke-width="1.4"/>
<line x1="582.0" y1="1919.3" x2="845.9" y2="1889.1" stroke="#000" stroke-width="1.4"/>
<line x1="582.0" y1="1949.6" x2="845.9" y2="1889.1" stroke="#bebebe" stroke-width="1.4"/>
<line x1="582.0" y1="1979.8" x2="845.9" y2="1889.1" stroke="#000" stroke-width="1.4"/>
<line x1="737.2" y1="1722.7" x2="845.9" y2="1889.1" stroke="#000" stroke-width="1.4"/>
<line x1="582.0" y1="1828.6" x2="845.9" y2="1919.3" stroke="#000" stroke-width="1.4"/>
<line x1="582.0" y1="1858.8" x2="845.9" y2="1919.3" stroke="#000" stroke-width="1.4"/>
<line x1="582.0" y1="1889.1" x2="845.9" y2="1919.3" stroke="#bebebe" stroke-width="1.4"/>
<line x1="582.0" y1="1919.3" x2="845.9" y2="1919.3" stroke="#bebebe" stroke-width="1.4"/>
<line x1="582.0" y1="1949.6" x2="845.9" y2="1919.3" stroke="#000" stroke-width="1.4"/>
<line x1="582.0" y1="1979.8" x2="845.9" y2="1919.3" stroke="#bebebe" stroke-width="1.4"/>
<line x1="737.2" y1="1722.7" x2="845.9" y2="1919.3" stroke="#bebebe" stroke-width="1.4"/>
<ellipse cx="257.2" cy="1737.8" rx="17.2" ry="16.2" fill="#add8e6"/>
<text transform="translate(257.2,1742.0) scale(1,0.93)" font-size="14.3" text-anchor="middle">I1</text>
<ellipse cx="257.2" cy="1768.1" rx="17.2" ry="16.2" fill="#add8e6"/>
<text transform="translate(257.2,1772.2) scale(1,0.93)" font-size="14.3" text-anchor="middle">I2</text>
<ellipse cx="257.2" cy="1798.3" rx="17.2" ry="16.2" fill="#add8e6"/>
<text transform="translate(257.2,1802.5) scale(1,0.93)" font-size="14.3" text-anchor="middle">I3</text>
<ellipse cx="257.2" cy="1828.6" rx="17.2" ry="16.2" fill="#add8e6"/>
<text transform="translate(257.2,1832.7) scale(1,0.93)" font-size="14.3" text-anchor="middle">I4</text>
<ellipse cx="257.2" cy="1858.8" rx="17.2" ry="16.2" fill="#add8e6"/>
<text transform="translate(257.2,1863.0) scale(1,0.93)" font-size="14.3" text-anchor="middle">I5</text>
<ellipse cx="257.2" cy="1889.1" rx="17.2" ry="16.2" fill="#add8e6"/>
<text transform="translate(257.2,1893.2) scale(1,0.93)" font-size="14.3" text-anchor="middle">I6</text>
<ellipse cx="257.2" cy="1919.3" rx="17.2" ry="16.2" fill="#add8e6"/>
<text transform="translate(257.2,1923.5) scale(1,0.93)" font-size="14.3" text-anchor="middle">I7</text>
<ellipse cx="257.2" cy="1949.6" rx="17.2" ry="16.2" fill="#add8e6"/>
<text transform="translate(257.2,1953.7) scale(1,0.93)" font-size="14.3" text-anchor="middle">I8</text>
<ellipse cx="257.2" cy="1979.8" rx="17.2" ry="16.2" fill="#add8e6"/>
<text transform="translate(257.2,1984.0) scale(1,0.93)" font-size="14.3" text-anchor="middle">I9</text>
<ellipse cx="257.2" cy="2010.1" rx="17.2" ry="16.2" fill="#add8e6"/>
<text transform="translate(257.2,2014.2) scale(1,0.93)" font-size="14.3" text-anchor="middle">I10</text>
<ellipse cx="257.2" cy="2040.3" rx="17.2" ry="16.2" fill="#add8e6"/>
<text transform="translate(257.2,2044.5) scale(1,0.93)" font-size="14.3" text-anchor="middle">I11</text>
<ellipse cx="257.2" cy="2070.6" rx="17.2" ry="16.2" fill="#add8e6"/>
<text transform="translate(257.2,2074.7) scale(1,0.93)" font-size="14.3" text-anchor="middle">I12</text>
<ellipse cx="562.9" cy="1828.6" rx="17.2" ry="16.2" fill="#add8e6"/>
<text transform="translate(562.9,1832.7) scale(1,0.93)" font-size="14.3" text-anchor="middle">H1</text>
<ellipse cx="562.9" cy="1858.8" rx="17.2" ry="16.2" fill="#add8e6"/>
<text transform="translate(562.9,1863.0) scale(1,0.93)" font-size="14.3" text-anchor="middle">H2</text>
<ellipse cx="562.9" cy="1889.1" rx="17.2" ry="16.2" fill="#add8e6"/>
<text transform="translate(562.9,1893.2) scale(1,0.93)" font-size="14.3" text-anchor="middle">H3</text>
<ellipse cx="562.9" cy="1919.3" rx="17.2" ry="16.2" fill="#add8e6"/>
<text transform="translate(562.9,1923.5) scale(1,0.93)" font-size="14.3" text-anchor="middle">H4</text>
<ellipse cx="562.9" cy="1949.6" rx="17.2" ry="16.2" fill="#add8e6"/>
<text transform="translate(562.9,1953.7) scale(1,0.93)" font-size="14.3" text-anchor="middle">H5</text>
<ellipse cx="562.9" cy="1979.8" rx="17.2" ry="16.2" fill="#add8e6"/>
<text transform="translate(562.9,1984.0) scale(1,0.93)" font-size="14.3" text-anchor="middle">H6</text>
<ellipse cx="867.6" cy="1889.1" rx="17.2" ry="16.2" fill="#add8e6"/>
<text transform="translate(867.6,1893.2) scale(1,0.93)" font-size="14.3" text-anchor="middle">O1</text>
<ellipse cx="867.6" cy="1919.3" rx="17.2" ry="16.2" fill="#add8e6"/>
<text transform="translate(867.6,1923.5) scale(1,0.93)" font-size="14.3" text-anchor="middle">O2</text>
<ellipse cx="409.5" cy="1722.5" rx="17.2" ry="16.2" fill="#add8e6"/>
<text transform="translate(409.5,1726.7) scale(1,0.93)" font-size="14.3" text-anchor="middle">B1</text>
<ellipse cx="714.5" cy="1722.7" rx="17.2" ry="16.2" fill="#add8e6"/>
<text transform="translate(714.5,1726.9) scale(1,0.93)" font-size="14.3" text-anchor="middle">B2</text>
<text transform="translate(227.1,1740.4) scale(1,0.93)" font-size="14.4" text-anchor="end">CPD</text>
<text transform="translate(227.1,1770.7) scale(1,0.93)" font-size="14.4" text-anchor="end">CD163</text>
<text transform="translate(227.1,1800.9) scale(1,0.93)" font-size="14.4" text-anchor="end">S100A12</text>
<text transform="translate(227.1,1831.2) scale(1,0.93)" font-size="14.4" text-anchor="end">SRPK1</text>
<text transform="translate(227.1,1861.4) scale(1,0.93)" font-size="14.4" text-anchor="end">KCNJ15</text>
<text transform="translate(227.1,1891.7) scale(1,0.93)" font-size="14.4" text-anchor="end">SLC22A4</text>
<text transform="translate(227.1,1921.9) scale(1,0.93)" font-size="14.4" text-anchor="end">ARG1</text>
<text transform="translate(227.1,1952.2) scale(1,0.93)" font-size="14.4" text-anchor="end">HECW2</text>
<text transform="translate(227.1,1982.4) scale(1,0.93)" font-size="14.4" text-anchor="end">ID3</text>
<text transform="translate(227.1,2012.7) scale(1,0.93)" font-size="14.4" text-anchor="end">EVL</text>
<text transform="translate(227.1,2042.9) scale(1,0.93)" font-size="14.4" text-anchor="end">FLT3LG</text>
<text transform="translate(227.1,2073.2) scale(1,0.93)" font-size="14.4" text-anchor="end">CD19</text>
<text transform="translate(898.0,1891.7) scale(1,0.93)" font-size="14.4">Control</text>
<text transform="translate(898.0,1921.9) scale(1,0.93)" font-size="14.4">IS</text>
<text x="5.45" y="534.40" font-size="34.5" font-weight="bold">B</text>
<line x1="81.2" y1="817.7" x2="357.9" y2="544.0" stroke="#a8a8a8" stroke-width="1"/>
<polyline points="91.50,807.52 91.50,556.67 101.74,554.14 347.65,554.14" fill="none" stroke="#f00" stroke-width="2" stroke-linejoin="round"/>
<rect x="81.2" y="544.0" width="276.6" height="273.7" fill="none" stroke="#4d4d4d" stroke-width="1.5"/>
<line x1="91.5" y1="817.7" x2="91.5" y2="824.9" stroke="#4d4d4d" stroke-width="1.3"/>
<line x1="81.2" y1="807.5" x2="74.0" y2="807.5" stroke="#4d4d4d" stroke-width="1.3"/>
<text x="91.5" y="844.3" font-size="12.41" text-anchor="middle">0.0</text>
<text transform="translate(64.2,807.5) rotate(-90)" font-size="12.41" text-anchor="middle">0.0</text>
<line x1="142.7" y1="817.7" x2="142.7" y2="824.9" stroke="#4d4d4d" stroke-width="1.3"/>
<line x1="81.2" y1="756.8" x2="74.0" y2="756.8" stroke="#4d4d4d" stroke-width="1.3"/>
<text x="142.7" y="844.3" font-size="12.41" text-anchor="middle">0.2</text>
<text transform="translate(64.2,756.8) rotate(-90)" font-size="12.41" text-anchor="middle">0.2</text>
<line x1="194.0" y1="817.7" x2="194.0" y2="824.9" stroke="#4d4d4d" stroke-width="1.3"/>
<line x1="81.2" y1="706.2" x2="74.0" y2="706.2" stroke="#4d4d4d" stroke-width="1.3"/>
<text x="194.0" y="844.3" font-size="12.41" text-anchor="middle">0.4</text>
<text transform="translate(64.2,706.2) rotate(-90)" font-size="12.41" text-anchor="middle">0.4</text>
<line x1="245.2" y1="817.7" x2="245.2" y2="824.9" stroke="#4d4d4d" stroke-width="1.3"/>
<line x1="81.2" y1="655.5" x2="74.0" y2="655.5" stroke="#4d4d4d" stroke-width="1.3"/>
<text x="245.2" y="844.3" font-size="12.41" text-anchor="middle">0.6</text>
<text transform="translate(64.2,655.5) rotate(-90)" font-size="12.41" text-anchor="middle">0.6</text>
<line x1="296.4" y1="817.7" x2="296.4" y2="824.9" stroke="#4d4d4d" stroke-width="1.3"/>
<line x1="81.2" y1="604.8" x2="74.0" y2="604.8" stroke="#4d4d4d" stroke-width="1.3"/>
<text x="296.4" y="844.3" font-size="12.41" text-anchor="middle">0.8</text>
<text transform="translate(64.2,604.8) rotate(-90)" font-size="12.41" text-anchor="middle">0.8</text>
<line x1="347.7" y1="817.7" x2="347.7" y2="824.9" stroke="#4d4d4d" stroke-width="1.3"/>
<line x1="81.2" y1="554.1" x2="74.0" y2="554.1" stroke="#4d4d4d" stroke-width="1.3"/>
<text x="347.7" y="844.3" font-size="12.41" text-anchor="middle">1.0</text>
<text transform="translate(64.2,554.1) rotate(-90)" font-size="12.41" text-anchor="middle">1.0</text>
<text x="219.6" y="534.0" font-size="14.01" font-weight="bold" text-anchor="middle">Train group</text>
<text x="219.6" y="865.6" font-size="12.01" text-anchor="middle">1 − Specificity</text>
<text transform="translate(41.7,680.8) rotate(-90)" font-size="12.01" text-anchor="middle">Sensitivity</text>
<text x="250.8" y="689.6" font-size="12.01" fill="#f00" text-anchor="middle">AUC: 1.000</text>
<text x="247.5" y="703.1" font-size="12.01" fill="#f00" text-anchor="middle">95% CI: 0.999−1.000</text>
<text x="424.10" y="533.90" font-size="34.5" font-weight="bold">C</text>
<line x1="512.2" y1="817.7" x2="789.2" y2="544.0" stroke="#a8a8a8" stroke-width="1"/>
<polyline points="522.46,807.52 522.46,794.86 535.28,794.86 535.28,782.19 548.11,782.19 548.11,731.51 586.58,731.51 586.58,718.84 599.40,718.84 599.40,680.83 612.23,680.83 612.23,630.15 637.88,630.15 637.88,592.14 650.70,592.14 650.70,566.81 753.29,566.81 753.29,554.14 778.94,554.14" fill="none" stroke="#f00" stroke-width="2" stroke-linejoin="round"/>
<rect x="512.2" y="544.0" width="277.0" height="273.7" fill="none" stroke="#4d4d4d" stroke-width="1.5"/>
<line x1="522.5" y1="817.7" x2="522.5" y2="824.9" stroke="#4d4d4d" stroke-width="1.3"/>
<line x1="512.2" y1="807.5" x2="505.0" y2="807.5" stroke="#4d4d4d" stroke-width="1.3"/>
<text x="522.5" y="844.3" font-size="12.42" text-anchor="middle">0.0</text>
<text transform="translate(495.2,807.5) rotate(-90)" font-size="12.42" text-anchor="middle">0.0</text>
<line x1="573.8" y1="817.7" x2="573.8" y2="824.9" stroke="#4d4d4d" stroke-width="1.3"/>
<line x1="512.2" y1="756.8" x2="505.0" y2="756.8" stroke="#4d4d4d" stroke-width="1.3"/>
<text x="573.8" y="844.3" font-size="12.42" text-anchor="middle">0.2</text>
<text transform="translate(495.2,756.8) rotate(-90)" font-size="12.42" text-anchor="middle">0.2</text>
<line x1="625.1" y1="817.7" x2="625.1" y2="824.9" stroke="#4d4d4d" stroke-width="1.3"/>
<line x1="512.2" y1="706.2" x2="505.0" y2="706.2" stroke="#4d4d4d" stroke-width="1.3"/>
<text x="625.1" y="844.3" font-size="12.42" text-anchor="middle">0.4</text>
<text transform="translate(495.2,706.2) rotate(-90)" font-size="12.42" text-anchor="middle">0.4</text>
<line x1="676.3" y1="817.7" x2="676.3" y2="824.9" stroke="#4d4d4d" stroke-width="1.3"/>
<line x1="512.2" y1="655.5" x2="505.0" y2="655.5" stroke="#4d4d4d" stroke-width="1.3"/>
<text x="676.3" y="844.3" font-size="12.42" text-anchor="middle">0.6</text>
<text transform="translate(495.2,655.5) rotate(-90)" font-size="12.42" text-anchor="middle">0.6</text>
<line x1="727.6" y1="817.7" x2="727.6" y2="824.9" stroke="#4d4d4d" stroke-width="1.3"/>
<line x1="512.2" y1="604.8" x2="505.0" y2="604.8" stroke="#4d4d4d" stroke-width="1.3"/>
<text x="727.6" y="844.3" font-size="12.42" text-anchor="middle">0.8</text>
<text transform="translate(495.2,604.8) rotate(-90)" font-size="12.42" text-anchor="middle">0.8</text>
<line x1="778.9" y1="817.7" x2="778.9" y2="824.9" stroke="#4d4d4d" stroke-width="1.3"/>
<line x1="512.2" y1="554.1" x2="505.0" y2="554.1" stroke="#4d4d4d" stroke-width="1.3"/>
<text x="778.9" y="844.3" font-size="12.42" text-anchor="middle">1.0</text>
<text transform="translate(495.2,554.1) rotate(-90)" font-size="12.42" text-anchor="middle">1.0</text>
<text x="650.7" y="534.0" font-size="14.03" font-weight="bold" text-anchor="middle">Test group</text>
<text x="650.7" y="865.7" font-size="12.02" text-anchor="middle">1 − Specificity</text>
<text transform="translate(472.6,680.8) rotate(-90)" font-size="12.02" text-anchor="middle">Sensitivity</text>
<text x="682.0" y="689.6" font-size="12.02" fill="#f00" text-anchor="middle">AUC: 0.688</text>
<text x="678.7" y="703.2" font-size="12.02" fill="#f00" text-anchor="middle">95% CI: 0.510−0.845</text>
<text x="841.00" y="535.00" font-size="34.5" font-weight="bold">D</text>
<line x1="942.7" y1="817.7" x2="1219.1" y2="544.0" stroke="#a8a8a8" stroke-width="1"/>
<polyline points="952.94,807.52 952.94,680.83 978.53,680.83 978.53,655.49 1055.31,655.49 1055.31,604.81 1132.09,604.81 1132.09,579.47 1208.86,579.47 1208.86,554.14" fill="none" stroke="#f00" stroke-width="2" stroke-linejoin="round"/>
<rect x="942.7" y="544.0" width="276.4" height="273.7" fill="none" stroke="#4d4d4d" stroke-width="1.5"/>
<line x1="952.9" y1="817.7" x2="952.9" y2="824.9" stroke="#4d4d4d" stroke-width="1.3"/>
<line x1="942.7" y1="807.5" x2="935.5" y2="807.5" stroke="#4d4d4d" stroke-width="1.3"/>
<text x="952.9" y="844.3" font-size="12.40" text-anchor="middle">0.0</text>
<text transform="translate(925.7,807.5) rotate(-90)" font-size="12.40" text-anchor="middle">0.0</text>
<line x1="1004.1" y1="817.7" x2="1004.1" y2="824.9" stroke="#4d4d4d" stroke-width="1.3"/>
<line x1="942.7" y1="756.8" x2="935.5" y2="756.8" stroke="#4d4d4d" stroke-width="1.3"/>
<text x="1004.1" y="844.3" font-size="12.40" text-anchor="middle">0.2</text>
<text transform="translate(925.7,756.8) rotate(-90)" font-size="12.40" text-anchor="middle">0.2</text>
<line x1="1055.3" y1="817.7" x2="1055.3" y2="824.9" stroke="#4d4d4d" stroke-width="1.3"/>
<line x1="942.7" y1="706.2" x2="935.5" y2="706.2" stroke="#4d4d4d" stroke-width="1.3"/>
<text x="1055.3" y="844.3" font-size="12.40" text-anchor="middle">0.4</text>
<text transform="translate(925.7,706.2) rotate(-90)" font-size="12.40" text-anchor="middle">0.4</text>
<line x1="1106.5" y1="817.7" x2="1106.5" y2="824.9" stroke="#4d4d4d" stroke-width="1.3"/>
<line x1="942.7" y1="655.5" x2="935.5" y2="655.5" stroke="#4d4d4d" stroke-width="1.3"/>
<text x="1106.5" y="844.3" font-size="12.40" text-anchor="middle">0.6</text>
<text transform="translate(925.7,655.5) rotate(-90)" font-size="12.40" text-anchor="middle">0.6</text>
<line x1="1157.7" y1="817.7" x2="1157.7" y2="824.9" stroke="#4d4d4d" stroke-width="1.3"/>
<line x1="942.7" y1="604.8" x2="935.5" y2="604.8" stroke="#4d4d4d" stroke-width="1.3"/>
<text x="1157.7" y="844.3" font-size="12.40" text-anchor="middle">0.8</text>
<text transform="translate(925.7,604.8) rotate(-90)" font-size="12.40" text-anchor="middle">0.8</text>
<line x1="1208.9" y1="817.7" x2="1208.9" y2="824.9" stroke="#4d4d4d" stroke-width="1.3"/>
<line x1="942.7" y1="554.1" x2="935.5" y2="554.1" stroke="#4d4d4d" stroke-width="1.3"/>
<text x="1208.9" y="844.3" font-size="12.40" text-anchor="middle">1.0</text>
<text transform="translate(925.7,554.1) rotate(-90)" font-size="12.40" text-anchor="middle">1.0</text>
<text x="1080.9" y="534.0" font-size="14.00" font-weight="bold" text-anchor="middle">Test group</text>
<text x="1080.9" y="865.5" font-size="12.00" text-anchor="middle">1 − Specificity</text>
<text transform="translate(903.2,680.8) rotate(-90)" font-size="12.00" text-anchor="middle">Sensitivity</text>
<text x="1112.1" y="689.6" font-size="12.00" fill="#f00" text-anchor="middle">AUC: 0.740</text>
<text x="1108.8" y="703.1" font-size="12.00" fill="#f00" text-anchor="middle">95% CI: 0.490−0.950</text>
<text x="209.00" y="1373.00" font-size="34.5" font-weight="bold">F</text>
<line x1="324.9" y1="1635.9" x2="610.3" y2="1356.7" stroke="#a8a8a8" stroke-width="1"/>
<polyline points="335.47,1625.56 335.47,1390.31 336.26,1386.43 337.58,1382.55 339.43,1379.19 342.08,1376.61 346.04,1374.28 353.97,1373.50 354.50,1371.18 361.90,1370.66 388.32,1368.33 414.75,1367.04 599.73,1367.04" fill="none" stroke="#f00" stroke-width="2" stroke-linejoin="round"/>
<rect x="324.9" y="1356.7" width="285.4" height="279.2" fill="none" stroke="#4d4d4d" stroke-width="1.5"/>
<line x1="335.5" y1="1635.9" x2="335.5" y2="1643.3" stroke="#4d4d4d" stroke-width="1.3"/>
<line x1="324.9" y1="1625.6" x2="317.5" y2="1625.6" stroke="#4d4d4d" stroke-width="1.3"/>
<text x="335.5" y="1663.4" font-size="12.80" text-anchor="middle">0.0</text>
<text transform="translate(307.4,1625.6) rotate(-90)" font-size="12.80" text-anchor="middle">0.0</text>
<line x1="388.3" y1="1635.9" x2="388.3" y2="1643.3" stroke="#4d4d4d" stroke-width="1.3"/>
<line x1="324.9" y1="1573.9" x2="317.5" y2="1573.9" stroke="#4d4d4d" stroke-width="1.3"/>
<text x="388.3" y="1663.4" font-size="12.80" text-anchor="middle">0.2</text>
<text transform="translate(307.4,1573.9) rotate(-90)" font-size="12.80" text-anchor="middle">0.2</text>
<line x1="441.2" y1="1635.9" x2="441.2" y2="1643.3" stroke="#4d4d4d" stroke-width="1.3"/>
<line x1="324.9" y1="1522.2" x2="317.5" y2="1522.2" stroke="#4d4d4d" stroke-width="1.3"/>
<text x="441.2" y="1663.4" font-size="12.80" text-anchor="middle">0.4</text>
<text transform="translate(307.4,1522.2) rotate(-90)" font-size="12.80" text-anchor="middle">0.4</text>
<line x1="494.0" y1="1635.9" x2="494.0" y2="1643.3" stroke="#4d4d4d" stroke-width="1.3"/>
<line x1="324.9" y1="1470.4" x2="317.5" y2="1470.4" stroke="#4d4d4d" stroke-width="1.3"/>
<text x="494.0" y="1663.4" font-size="12.80" text-anchor="middle">0.6</text>
<text transform="translate(307.4,1470.4) rotate(-90)" font-size="12.80" text-anchor="middle">0.6</text>
<line x1="546.9" y1="1635.9" x2="546.9" y2="1643.3" stroke="#4d4d4d" stroke-width="1.3"/>
<line x1="324.9" y1="1418.7" x2="317.5" y2="1418.7" stroke="#4d4d4d" stroke-width="1.3"/>
<text x="546.9" y="1663.4" font-size="12.80" text-anchor="middle">0.8</text>
<text transform="translate(307.4,1418.7) rotate(-90)" font-size="12.80" text-anchor="middle">0.8</text>
<line x1="599.7" y1="1635.9" x2="599.7" y2="1643.3" stroke="#4d4d4d" stroke-width="1.3"/>
<line x1="324.9" y1="1367.0" x2="317.5" y2="1367.0" stroke="#4d4d4d" stroke-width="1.3"/>
<text x="599.7" y="1663.4" font-size="12.80" text-anchor="middle">1.0</text>
<text transform="translate(307.4,1367.0) rotate(-90)" font-size="12.80" text-anchor="middle">1.0</text>
<text x="467.6" y="1346.4" font-size="14.45" font-weight="bold" text-anchor="middle">Train group</text>
<text x="467.6" y="1685.3" font-size="12.39" text-anchor="middle">1 − Specificity</text>
<text transform="translate(284.1,1496.3) rotate(-90)" font-size="12.39" text-anchor="middle">Sensitivity</text>
<text x="499.8" y="1505.4" font-size="12.39" fill="#f00" text-anchor="middle">AUC: 0.995</text>
<text x="496.4" y="1519.3" font-size="12.39" fill="#f00" text-anchor="middle">95% CI: 0.988−0.999</text>
<text x="668.00" y="1373.50" font-size="34.5" font-weight="bold">G</text>
<line x1="787.3" y1="1635.9" x2="1072.6" y2="1356.7" stroke="#a8a8a8" stroke-width="1"/>
<polyline points="797.87,1625.56 797.87,1560.93 824.28,1560.93 824.28,1548.00 863.91,1548.00 863.91,1535.08 877.12,1535.08 877.12,1496.30 890.32,1483.37 890.32,1470.45 916.74,1470.45 916.74,1457.52 929.95,1457.52 929.95,1444.60 995.99,1444.60 995.99,1431.67 1009.20,1418.74 1022.41,1418.74 1022.41,1379.97 1048.82,1379.97 1048.82,1367.04 1062.03,1367.04" fill="none" stroke="#f00" stroke-width="2" stroke-linejoin="round"/>
<rect x="787.3" y="1356.7" width="285.3" height="279.2" fill="none" stroke="#4d4d4d" stroke-width="1.5"/>
<line x1="797.9" y1="1635.9" x2="797.9" y2="1643.3" stroke="#4d4d4d" stroke-width="1.3"/>
<line x1="787.3" y1="1625.6" x2="779.9" y2="1625.6" stroke="#4d4d4d" stroke-width="1.3"/>
<text x="797.9" y="1663.3" font-size="12.80" text-anchor="middle">0.0</text>
<text transform="translate(769.8,1625.6) rotate(-90)" font-size="12.80" text-anchor="middle">0.0</text>
<line x1="850.7" y1="1635.9" x2="850.7" y2="1643.3" stroke="#4d4d4d" stroke-width="1.3"/>
<line x1="787.3" y1="1573.9" x2="779.9" y2="1573.9" stroke="#4d4d4d" stroke-width="1.3"/>
<text x="850.7" y="1663.3" font-size="12.80" text-anchor="middle">0.2</text>
<text transform="translate(769.8,1573.9) rotate(-90)" font-size="12.80" text-anchor="middle">0.2</text>
<line x1="903.5" y1="1635.9" x2="903.5" y2="1643.3" stroke="#4d4d4d" stroke-width="1.3"/>
<line x1="787.3" y1="1522.2" x2="779.9" y2="1522.2" stroke="#4d4d4d" stroke-width="1.3"/>
<text x="903.5" y="1663.3" font-size="12.80" text-anchor="middle">0.4</text>
<text transform="translate(769.8,1522.2) rotate(-90)" font-size="12.80" text-anchor="middle">0.4</text>
<line x1="956.4" y1="1635.9" x2="956.4" y2="1643.3" stroke="#4d4d4d" stroke-width="1.3"/>
<line x1="787.3" y1="1470.4" x2="779.9" y2="1470.4" stroke="#4d4d4d" stroke-width="1.3"/>
<text x="956.4" y="1663.3" font-size="12.80" text-anchor="middle">0.6</text>
<text transform="translate(769.8,1470.4) rotate(-90)" font-size="12.80" text-anchor="middle">0.6</text>
<line x1="1009.2" y1="1635.9" x2="1009.2" y2="1643.3" stroke="#4d4d4d" stroke-width="1.3"/>
<line x1="787.3" y1="1418.7" x2="779.9" y2="1418.7" stroke="#4d4d4d" stroke-width="1.3"/>
<text x="1009.2" y="1663.3" font-size="12.80" text-anchor="middle">0.8</text>
<text transform="translate(769.8,1418.7) rotate(-90)" font-size="12.80" text-anchor="middle">0.8</text>
<line x1="1062.0" y1="1635.9" x2="1062.0" y2="1643.3" stroke="#4d4d4d" stroke-width="1.3"/>
<line x1="787.3" y1="1367.0" x2="779.9" y2="1367.0" stroke="#4d4d4d" stroke-width="1.3"/>
<text x="1062.0" y="1663.3" font-size="12.80" text-anchor="middle">1.0</text>
<text transform="translate(769.8,1367.0) rotate(-90)" font-size="12.80" text-anchor="middle">1.0</text>
<text x="929.9" y="1346.4" font-size="14.45" font-weight="bold" text-anchor="middle">Test group</text>
<text x="929.9" y="1685.3" font-size="12.38" text-anchor="middle">1 − Specificity</text>
<text transform="translate(746.5,1496.3) rotate(-90)" font-size="12.38" text-anchor="middle">Sensitivity</text>
<text x="962.2" y="1505.4" font-size="12.38" fill="#f00" text-anchor="middle">AUC: 0.605</text>
<text x="958.7" y="1519.3" font-size="12.38" fill="#f00" text-anchor="middle">95% CI: 0.420−0.771</text>
<text x="5.30" y="2115.10" font-size="34.5" font-weight="bold">I</text>
<line x1="82.2" y1="2421.1" x2="355.3" y2="2144.7" stroke="#a8a8a8" stroke-width="1"/>
<polyline points="92.31,2410.86 92.31,2163.89 94.84,2162.10 99.90,2160.82 107.49,2159.54 117.60,2158.78 142.89,2156.73 168.18,2154.94 345.19,2154.94" fill="none" stroke="#f00" stroke-width="2" stroke-linejoin="round"/>
<rect x="82.2" y="2144.7" width="273.1" height="276.4" fill="none" stroke="#4d4d4d" stroke-width="1.5"/>
<line x1="92.3" y1="2421.1" x2="92.3" y2="2428.2" stroke="#4d4d4d" stroke-width="1.3"/>
<line x1="82.2" y1="2410.9" x2="75.1" y2="2410.9" stroke="#4d4d4d" stroke-width="1.3"/>
<text x="92.3" y="2447.4" font-size="12.25" text-anchor="middle">0.0</text>
<text transform="translate(65.4,2410.9) rotate(-90)" font-size="12.25" text-anchor="middle">0.0</text>
<line x1="142.9" y1="2421.1" x2="142.9" y2="2428.2" stroke="#4d4d4d" stroke-width="1.3"/>
<line x1="82.2" y1="2359.7" x2="75.1" y2="2359.7" stroke="#4d4d4d" stroke-width="1.3"/>
<text x="142.9" y="2447.4" font-size="12.25" text-anchor="middle">0.2</text>
<text transform="translate(65.4,2359.7) rotate(-90)" font-size="12.25" text-anchor="middle">0.2</text>
<line x1="193.5" y1="2421.1" x2="193.5" y2="2428.2" stroke="#4d4d4d" stroke-width="1.3"/>
<line x1="82.2" y1="2308.5" x2="75.1" y2="2308.5" stroke="#4d4d4d" stroke-width="1.3"/>
<text x="193.5" y="2447.4" font-size="12.25" text-anchor="middle">0.4</text>
<text transform="translate(65.4,2308.5) rotate(-90)" font-size="12.25" text-anchor="middle">0.4</text>
<line x1="244.0" y1="2421.1" x2="244.0" y2="2428.2" stroke="#4d4d4d" stroke-width="1.3"/>
<line x1="82.2" y1="2257.3" x2="75.1" y2="2257.3" stroke="#4d4d4d" stroke-width="1.3"/>
<text x="244.0" y="2447.4" font-size="12.25" text-anchor="middle">0.6</text>
<text transform="translate(65.4,2257.3) rotate(-90)" font-size="12.25" text-anchor="middle">0.6</text>
<line x1="294.6" y1="2421.1" x2="294.6" y2="2428.2" stroke="#4d4d4d" stroke-width="1.3"/>
<line x1="82.2" y1="2206.1" x2="75.1" y2="2206.1" stroke="#4d4d4d" stroke-width="1.3"/>
<text x="294.6" y="2447.4" font-size="12.25" text-anchor="middle">0.8</text>
<text transform="translate(65.4,2206.1) rotate(-90)" font-size="12.25" text-anchor="middle">0.8</text>
<line x1="345.2" y1="2421.1" x2="345.2" y2="2428.2" stroke="#4d4d4d" stroke-width="1.3"/>
<line x1="82.2" y1="2154.9" x2="75.1" y2="2154.9" stroke="#4d4d4d" stroke-width="1.3"/>
<text x="345.2" y="2447.4" font-size="12.25" text-anchor="middle">1.0</text>
<text transform="translate(65.4,2154.9) rotate(-90)" font-size="12.25" text-anchor="middle">1.0</text>
<text x="218.8" y="2134.8" font-size="13.83" font-weight="bold" text-anchor="middle">Train group</text>
<text x="218.8" y="2468.4" font-size="11.85" text-anchor="middle">1 − Specificity</text>
<text transform="translate(43.2,2282.9) rotate(-90)" font-size="11.85" text-anchor="middle">Sensitivity</text>
<text x="249.6" y="2291.6" font-size="11.85" fill="#f00" text-anchor="middle">AUC: 0.997</text>
<text x="246.3" y="2304.9" font-size="11.85" fill="#f00" text-anchor="middle">95% CI: 0.991−1.000</text>
<text x="423.50" y="2115.00" font-size="34.5" font-weight="bold">J</text>
<line x1="502.3" y1="2423.4" x2="775.4" y2="2147.3" stroke="#a8a8a8" stroke-width="1"/>
<polyline points="512.41,2413.17 512.41,2400.39 525.06,2400.39 525.06,2362.04 550.35,2362.04 550.35,2336.48 562.99,2323.70 575.63,2323.70 575.63,2310.91 588.28,2310.91 588.28,2272.57 600.92,2272.57 600.92,2247.00 626.21,2247.00 626.21,2221.44 664.14,2221.44 664.14,2208.66 727.35,2208.66 727.35,2195.87 740.00,2195.87 740.00,2170.31 765.29,2170.31 765.29,2157.53" fill="none" stroke="#f00" stroke-width="2" stroke-linejoin="round"/>
<rect x="502.3" y="2147.3" width="273.1" height="276.1" fill="none" stroke="#4d4d4d" stroke-width="1.5"/>
<line x1="512.4" y1="2423.4" x2="512.4" y2="2430.5" stroke="#4d4d4d" stroke-width="1.3"/>
<line x1="502.3" y1="2413.2" x2="495.2" y2="2413.2" stroke="#4d4d4d" stroke-width="1.3"/>
<text x="512.4" y="2449.7" font-size="12.25" text-anchor="middle">0.0</text>
<text transform="translate(485.5,2413.2) rotate(-90)" font-size="12.25" text-anchor="middle">0.0</text>
<line x1="563.0" y1="2423.4" x2="563.0" y2="2430.5" stroke="#4d4d4d" stroke-width="1.3"/>
<line x1="502.3" y1="2362.0" x2="495.2" y2="2362.0" stroke="#4d4d4d" stroke-width="1.3"/>
<text x="563.0" y="2449.7" font-size="12.25" text-anchor="middle">0.2</text>
<text transform="translate(485.5,2362.0) rotate(-90)" font-size="12.25" text-anchor="middle">0.2</text>
<line x1="613.6" y1="2423.4" x2="613.6" y2="2430.5" stroke="#4d4d4d" stroke-width="1.3"/>
<line x1="502.3" y1="2310.9" x2="495.2" y2="2310.9" stroke="#4d4d4d" stroke-width="1.3"/>
<text x="613.6" y="2449.7" font-size="12.25" text-anchor="middle">0.4</text>
<text transform="translate(485.5,2310.9) rotate(-90)" font-size="12.25" text-anchor="middle">0.4</text>
<line x1="664.1" y1="2423.4" x2="664.1" y2="2430.5" stroke="#4d4d4d" stroke-width="1.3"/>
<line x1="502.3" y1="2259.8" x2="495.2" y2="2259.8" stroke="#4d4d4d" stroke-width="1.3"/>
<text x="664.1" y="2449.7" font-size="12.25" text-anchor="middle">0.6</text>
<text transform="translate(485.5,2259.8) rotate(-90)" font-size="12.25" text-anchor="middle">0.6</text>
<line x1="714.7" y1="2423.4" x2="714.7" y2="2430.5" stroke="#4d4d4d" stroke-width="1.3"/>
<line x1="502.3" y1="2208.7" x2="495.2" y2="2208.7" stroke="#4d4d4d" stroke-width="1.3"/>
<text x="714.7" y="2449.7" font-size="12.25" text-anchor="middle">0.8</text>
<text transform="translate(485.5,2208.7) rotate(-90)" font-size="12.25" text-anchor="middle">0.8</text>
<line x1="765.3" y1="2423.4" x2="765.3" y2="2430.5" stroke="#4d4d4d" stroke-width="1.3"/>
<line x1="502.3" y1="2157.5" x2="495.2" y2="2157.5" stroke="#4d4d4d" stroke-width="1.3"/>
<text x="765.3" y="2449.7" font-size="12.25" text-anchor="middle">1.0</text>
<text transform="translate(485.5,2157.5) rotate(-90)" font-size="12.25" text-anchor="middle">1.0</text>
<text x="638.9" y="2137.4" font-size="13.83" font-weight="bold" text-anchor="middle">Test group</text>
<text x="638.9" y="2470.7" font-size="11.85" text-anchor="middle">1 − Specificity</text>
<text transform="translate(463.3,2285.4) rotate(-90)" font-size="11.85" text-anchor="middle">Sensitivity</text>
<text x="669.7" y="2294.0" font-size="11.85" fill="#f00" text-anchor="middle">AUC: 0.619</text>
<text x="666.4" y="2307.4" font-size="11.85" fill="#f00" text-anchor="middle">95% CI: 0.429−0.787</text>
<text x="841.30" y="2114.40" font-size="34.5" font-weight="bold">K</text>
<line x1="940.8" y1="2421.1" x2="1214.3" y2="2144.7" stroke="#a8a8a8" stroke-width="1"/>
<polyline points="950.93,2410.86 950.93,2359.68 976.25,2359.68 976.25,2334.09 1026.90,2334.09 1026.90,2257.31 1077.55,2257.31 1077.55,2231.71 1102.87,2231.71 1102.87,2206.12 1153.52,2206.12 1153.52,2154.94 1204.17,2154.94" fill="none" stroke="#f00" stroke-width="2" stroke-linejoin="round"/>
<rect x="940.8" y="2144.7" width="273.5" height="276.4" fill="none" stroke="#4d4d4d" stroke-width="1.5"/>
<line x1="950.9" y1="2421.1" x2="950.9" y2="2428.2" stroke="#4d4d4d" stroke-width="1.3"/>
<line x1="940.8" y1="2410.9" x2="933.7" y2="2410.9" stroke="#4d4d4d" stroke-width="1.3"/>
<text x="950.9" y="2447.4" font-size="12.27" text-anchor="middle">0.0</text>
<text transform="translate(924.0,2410.9) rotate(-90)" font-size="12.27" text-anchor="middle">0.0</text>
<line x1="1001.6" y1="2421.1" x2="1001.6" y2="2428.2" stroke="#4d4d4d" stroke-width="1.3"/>
<line x1="940.8" y1="2359.7" x2="933.7" y2="2359.7" stroke="#4d4d4d" stroke-width="1.3"/>
<text x="1001.6" y="2447.4" font-size="12.27" text-anchor="middle">0.2</text>
<text transform="translate(924.0,2359.7) rotate(-90)" font-size="12.27" text-anchor="middle">0.2</text>
<line x1="1052.2" y1="2421.1" x2="1052.2" y2="2428.2" stroke="#4d4d4d" stroke-width="1.3"/>
<line x1="940.8" y1="2308.5" x2="933.7" y2="2308.5" stroke="#4d4d4d" stroke-width="1.3"/>
<text x="1052.2" y="2447.4" font-size="12.27" text-anchor="middle">0.4</text>
<text transform="translate(924.0,2308.5) rotate(-90)" font-size="12.27" text-anchor="middle">0.4</text>
<line x1="1102.9" y1="2421.1" x2="1102.9" y2="2428.2" stroke="#4d4d4d" stroke-width="1.3"/>
<line x1="940.8" y1="2257.3" x2="933.7" y2="2257.3" stroke="#4d4d4d" stroke-width="1.3"/>
<text x="1102.9" y="2447.4" font-size="12.27" text-anchor="middle">0.6</text>
<text transform="translate(924.0,2257.3) rotate(-90)" font-size="12.27" text-anchor="middle">0.6</text>
<line x1="1153.5" y1="2421.1" x2="1153.5" y2="2428.2" stroke="#4d4d4d" stroke-width="1.3"/>
<line x1="940.8" y1="2206.1" x2="933.7" y2="2206.1" stroke="#4d4d4d" stroke-width="1.3"/>
<text x="1153.5" y="2447.4" font-size="12.27" text-anchor="middle">0.8</text>
<text transform="translate(924.0,2206.1) rotate(-90)" font-size="12.27" text-anchor="middle">0.8</text>
<line x1="1204.2" y1="2421.1" x2="1204.2" y2="2428.2" stroke="#4d4d4d" stroke-width="1.3"/>
<line x1="940.8" y1="2154.9" x2="933.7" y2="2154.9" stroke="#4d4d4d" stroke-width="1.3"/>
<text x="1204.2" y="2447.4" font-size="12.27" text-anchor="middle">1.0</text>
<text transform="translate(924.0,2154.9) rotate(-90)" font-size="12.27" text-anchor="middle">1.0</text>
<text x="1077.5" y="2134.8" font-size="13.85" font-weight="bold" text-anchor="middle">Test group</text>
<text x="1077.5" y="2468.5" font-size="11.87" text-anchor="middle">1 − Specificity</text>
<text transform="translate(901.7,2282.9) rotate(-90)" font-size="11.87" text-anchor="middle">Sensitivity</text>
<text x="1108.4" y="2291.6" font-size="11.87" fill="#f00" text-anchor="middle">AUC: 0.630</text>
<text x="1105.2" y="2305.0" font-size="11.87" fill="#f00" text-anchor="middle">95% CI: 0.360−0.860</text>
</svg>
</body></html>
